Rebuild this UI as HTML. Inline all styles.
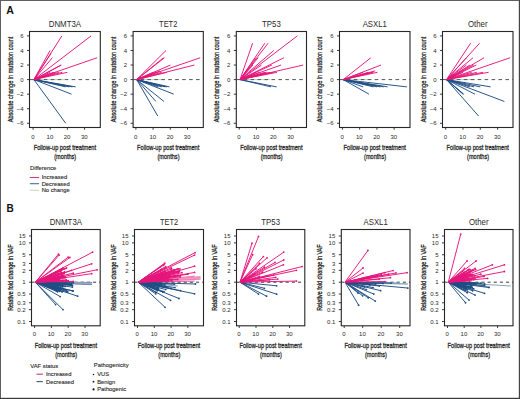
<!DOCTYPE html>
<html><head><meta charset="utf-8"><style>
html,body{margin:0;padding:0;background:#fff;}
body{width:520px;height:399px;overflow:hidden;font-family:"Liberation Sans",sans-serif;}
svg{display:block;}
</style></head><body>
<svg width="520" height="399" viewBox="0 0 520 399" font-family="Liberation Sans, sans-serif">
<rect x="0" y="0" width="520" height="399" fill="#ffffff"/>
<text x="6.30" y="13.90" font-size="10.6" text-anchor="start" fill="#111" font-weight="bold">A</text>
<text x="6.60" y="212.00" font-size="10.0" text-anchor="start" fill="#111" font-weight="bold">B</text>
<g>
<text x="64.90" y="26.70" font-size="8.2" text-anchor="middle" fill="#2a2a2a" textLength="32.40" lengthAdjust="spacingAndGlyphs">DNMT3A</text>
<line x1="27.00" y1="35.92" x2="29.50" y2="35.92" stroke="#262626" stroke-width="0.9"/>
<text x="23.50" y="38.07" font-size="6.0" text-anchor="end" fill="#2a2a2a">6</text>
<line x1="27.00" y1="50.48" x2="29.50" y2="50.48" stroke="#262626" stroke-width="0.9"/>
<text x="23.50" y="52.63" font-size="6.0" text-anchor="end" fill="#2a2a2a">4</text>
<line x1="27.00" y1="65.04" x2="29.50" y2="65.04" stroke="#262626" stroke-width="0.9"/>
<text x="23.50" y="67.19" font-size="6.0" text-anchor="end" fill="#2a2a2a">2</text>
<line x1="27.00" y1="79.60" x2="29.50" y2="79.60" stroke="#262626" stroke-width="0.9"/>
<text x="23.50" y="81.75" font-size="6.0" text-anchor="end" fill="#2a2a2a">0</text>
<line x1="27.00" y1="94.16" x2="29.50" y2="94.16" stroke="#262626" stroke-width="0.9"/>
<text x="23.50" y="96.31" font-size="6.0" text-anchor="end" fill="#2a2a2a">−2</text>
<line x1="27.00" y1="108.72" x2="29.50" y2="108.72" stroke="#262626" stroke-width="0.9"/>
<text x="23.50" y="110.87" font-size="6.0" text-anchor="end" fill="#2a2a2a">−4</text>
<line x1="27.00" y1="123.28" x2="29.50" y2="123.28" stroke="#262626" stroke-width="0.9"/>
<text x="23.50" y="125.43" font-size="6.0" text-anchor="end" fill="#2a2a2a">−6</text>
<line x1="33.10" y1="127.50" x2="33.10" y2="129.70" stroke="#262626" stroke-width="0.9"/>
<text x="32.80" y="139.10" font-size="6.0" text-anchor="middle" fill="#2a2a2a">0</text>
<line x1="50.25" y1="127.50" x2="50.25" y2="129.70" stroke="#262626" stroke-width="0.9"/>
<text x="49.95" y="139.10" font-size="6.0" text-anchor="middle" fill="#2a2a2a">10</text>
<line x1="67.40" y1="127.50" x2="67.40" y2="129.70" stroke="#262626" stroke-width="0.9"/>
<text x="67.10" y="139.10" font-size="6.0" text-anchor="middle" fill="#2a2a2a">20</text>
<line x1="84.55" y1="127.50" x2="84.55" y2="129.70" stroke="#262626" stroke-width="0.9"/>
<text x="84.25" y="139.10" font-size="6.0" text-anchor="middle" fill="#2a2a2a">30</text>
<text x="0" y="0" font-size="8.1" text-anchor="middle" fill="#2a2a2a" textLength="85.70" lengthAdjust="spacingAndGlyphs" stroke="#2a2a2a" stroke-width="0.32" transform="translate(12.90,79.50) rotate(-90)">Absolute change in mutation count</text>
<text x="64.90" y="150.10" font-size="8.1" text-anchor="middle" fill="#2a2a2a" textLength="62.3" lengthAdjust="spacingAndGlyphs" stroke="#2a2a2a" stroke-width="0.32">Follow-up post treatment</text>
<text x="65.20" y="159.20" font-size="8.1" text-anchor="middle" fill="#2a2a2a" textLength="22.0" lengthAdjust="spacingAndGlyphs" stroke="#2a2a2a" stroke-width="0.32">(months)</text>
<clipPath id="ca0"><rect x="29.50" y="31.50" width="70.80" height="96.00"/></clipPath>
<g clip-path="url(#ca0)">
<line x1="33.90" y1="79.60" x2="63.97" y2="79.60" stroke="#bcd8b4" stroke-width="1"/>
<line x1="29.50" y1="79.60" x2="100.30" y2="79.60" stroke="#555" stroke-width="1.0" stroke-dasharray="3.6 3.35" stroke-dashoffset="-0.4"/>
<line x1="33.90" y1="79.60" x2="75.63" y2="86.88" stroke="#1e4e84" stroke-width="0.95"/>
<line x1="33.90" y1="79.60" x2="71.52" y2="94.16" stroke="#1e4e84" stroke-width="0.95"/>
<line x1="33.90" y1="79.60" x2="65.69" y2="123.28" stroke="#1e4e84" stroke-width="0.95"/>
<line x1="33.90" y1="79.60" x2="72.55" y2="86.88" stroke="#1e4e84" stroke-width="0.95"/>
<line x1="33.90" y1="79.60" x2="69.12" y2="86.88" stroke="#1e4e84" stroke-width="0.95"/>
<line x1="33.90" y1="79.60" x2="65.69" y2="86.88" stroke="#1e4e84" stroke-width="0.95"/>
<line x1="33.90" y1="79.60" x2="61.91" y2="35.92" stroke="#e5157b" stroke-width="0.95"/>
<line x1="33.90" y1="79.60" x2="91.07" y2="35.92" stroke="#e5157b" stroke-width="0.95"/>
<line x1="33.90" y1="79.60" x2="50.08" y2="50.48" stroke="#e5157b" stroke-width="0.95"/>
<line x1="33.90" y1="79.60" x2="52.31" y2="57.76" stroke="#e5157b" stroke-width="0.95"/>
<line x1="33.90" y1="79.60" x2="51.11" y2="53.39" stroke="#e5157b" stroke-width="0.95"/>
<line x1="33.90" y1="79.60" x2="61.40" y2="65.04" stroke="#e5157b" stroke-width="0.95"/>
<line x1="33.90" y1="79.60" x2="97.07" y2="57.76" stroke="#e5157b" stroke-width="0.95"/>
<line x1="33.90" y1="79.60" x2="67.40" y2="72.32" stroke="#e5157b" stroke-width="0.95"/>
<line x1="33.90" y1="79.60" x2="61.05" y2="65.04" stroke="#e5157b" stroke-width="0.95"/>
<line x1="33.90" y1="79.60" x2="55.40" y2="72.32" stroke="#e5157b" stroke-width="0.95"/>
<line x1="33.90" y1="79.60" x2="58.83" y2="72.32" stroke="#e5157b" stroke-width="0.95"/>
<line x1="33.90" y1="79.60" x2="53.68" y2="72.32" stroke="#e5157b" stroke-width="0.95"/>
<line x1="33.90" y1="79.60" x2="62.26" y2="72.32" stroke="#e5157b" stroke-width="0.95"/>
<line x1="33.90" y1="79.60" x2="50.25" y2="72.32" stroke="#e5157b" stroke-width="0.95"/>
</g>
<rect x="29.50" y="31.50" width="70.80" height="96.00" fill="none" stroke="#262626" stroke-width="1.1"/>
</g>
<g>
<text x="168.20" y="26.70" font-size="8.2" text-anchor="middle" fill="#2a2a2a" textLength="18.20" lengthAdjust="spacingAndGlyphs">TET2</text>
<line x1="130.60" y1="35.92" x2="133.10" y2="35.92" stroke="#262626" stroke-width="0.9"/>
<text x="127.10" y="38.07" font-size="6.0" text-anchor="end" fill="#2a2a2a">6</text>
<line x1="130.60" y1="50.48" x2="133.10" y2="50.48" stroke="#262626" stroke-width="0.9"/>
<text x="127.10" y="52.63" font-size="6.0" text-anchor="end" fill="#2a2a2a">4</text>
<line x1="130.60" y1="65.04" x2="133.10" y2="65.04" stroke="#262626" stroke-width="0.9"/>
<text x="127.10" y="67.19" font-size="6.0" text-anchor="end" fill="#2a2a2a">2</text>
<line x1="130.60" y1="79.60" x2="133.10" y2="79.60" stroke="#262626" stroke-width="0.9"/>
<text x="127.10" y="81.75" font-size="6.0" text-anchor="end" fill="#2a2a2a">0</text>
<line x1="130.60" y1="94.16" x2="133.10" y2="94.16" stroke="#262626" stroke-width="0.9"/>
<text x="127.10" y="96.31" font-size="6.0" text-anchor="end" fill="#2a2a2a">−2</text>
<line x1="130.60" y1="108.72" x2="133.10" y2="108.72" stroke="#262626" stroke-width="0.9"/>
<text x="127.10" y="110.87" font-size="6.0" text-anchor="end" fill="#2a2a2a">−4</text>
<line x1="130.60" y1="123.28" x2="133.10" y2="123.28" stroke="#262626" stroke-width="0.9"/>
<text x="127.10" y="125.43" font-size="6.0" text-anchor="end" fill="#2a2a2a">−6</text>
<line x1="135.90" y1="127.50" x2="135.90" y2="129.70" stroke="#262626" stroke-width="0.9"/>
<text x="135.60" y="139.10" font-size="6.0" text-anchor="middle" fill="#2a2a2a">0</text>
<line x1="153.10" y1="127.50" x2="153.10" y2="129.70" stroke="#262626" stroke-width="0.9"/>
<text x="152.80" y="139.10" font-size="6.0" text-anchor="middle" fill="#2a2a2a">10</text>
<line x1="170.30" y1="127.50" x2="170.30" y2="129.70" stroke="#262626" stroke-width="0.9"/>
<text x="170.00" y="139.10" font-size="6.0" text-anchor="middle" fill="#2a2a2a">20</text>
<line x1="187.50" y1="127.50" x2="187.50" y2="129.70" stroke="#262626" stroke-width="0.9"/>
<text x="187.20" y="139.10" font-size="6.0" text-anchor="middle" fill="#2a2a2a">30</text>
<text x="0" y="0" font-size="8.1" text-anchor="middle" fill="#2a2a2a" textLength="85.70" lengthAdjust="spacingAndGlyphs" stroke="#2a2a2a" stroke-width="0.32" transform="translate(115.90,79.50) rotate(-90)">Absolute change in mutation count</text>
<text x="168.20" y="150.10" font-size="8.1" text-anchor="middle" fill="#2a2a2a" textLength="62.3" lengthAdjust="spacingAndGlyphs" stroke="#2a2a2a" stroke-width="0.32">Follow-up post treatment</text>
<text x="168.50" y="159.20" font-size="8.1" text-anchor="middle" fill="#2a2a2a" textLength="22.0" lengthAdjust="spacingAndGlyphs" stroke="#2a2a2a" stroke-width="0.32">(months)</text>
<clipPath id="ca1"><rect x="133.10" y="31.50" width="70.20" height="96.00"/></clipPath>
<g clip-path="url(#ca1)">
<line x1="136.70" y1="79.60" x2="165.14" y2="79.60" stroke="#bcd8b4" stroke-width="1"/>
<line x1="133.10" y1="79.60" x2="203.30" y2="79.60" stroke="#555" stroke-width="1.0" stroke-dasharray="3.6 3.35" stroke-dashoffset="-0.4"/>
<line x1="136.70" y1="79.60" x2="169.44" y2="86.88" stroke="#1e4e84" stroke-width="0.95"/>
<line x1="136.70" y1="79.60" x2="173.74" y2="94.16" stroke="#1e4e84" stroke-width="0.95"/>
<line x1="136.70" y1="79.60" x2="163.94" y2="101.44" stroke="#1e4e84" stroke-width="0.95"/>
<line x1="136.70" y1="79.60" x2="155.85" y2="101.44" stroke="#1e4e84" stroke-width="0.95"/>
<line x1="136.70" y1="79.60" x2="157.74" y2="116.00" stroke="#1e4e84" stroke-width="0.95"/>
<line x1="136.70" y1="79.60" x2="161.70" y2="86.88" stroke="#1e4e84" stroke-width="0.95"/>
<line x1="136.70" y1="79.60" x2="165.14" y2="86.88" stroke="#1e4e84" stroke-width="0.95"/>
<line x1="136.70" y1="79.60" x2="158.26" y2="86.88" stroke="#1e4e84" stroke-width="0.95"/>
<line x1="136.70" y1="79.60" x2="166.86" y2="86.88" stroke="#1e4e84" stroke-width="0.95"/>
<line x1="136.70" y1="79.60" x2="166.00" y2="50.48" stroke="#e5157b" stroke-width="0.95"/>
<line x1="136.70" y1="79.60" x2="164.45" y2="57.76" stroke="#e5157b" stroke-width="0.95"/>
<line x1="136.70" y1="79.60" x2="163.42" y2="57.76" stroke="#e5157b" stroke-width="0.95"/>
<line x1="136.70" y1="79.60" x2="170.47" y2="65.04" stroke="#e5157b" stroke-width="0.95"/>
<line x1="136.70" y1="79.60" x2="200.23" y2="57.76" stroke="#e5157b" stroke-width="0.95"/>
<line x1="136.70" y1="79.60" x2="194.38" y2="65.04" stroke="#e5157b" stroke-width="0.95"/>
<line x1="136.70" y1="79.60" x2="156.54" y2="72.32" stroke="#e5157b" stroke-width="0.95"/>
<line x1="136.70" y1="79.60" x2="161.70" y2="72.32" stroke="#e5157b" stroke-width="0.95"/>
<line x1="136.70" y1="79.60" x2="166.86" y2="72.32" stroke="#e5157b" stroke-width="0.95"/>
<line x1="136.70" y1="79.60" x2="153.10" y2="72.32" stroke="#e5157b" stroke-width="0.95"/>
<line x1="136.70" y1="79.60" x2="159.98" y2="70.86" stroke="#e5157b" stroke-width="0.95"/>
</g>
<rect x="133.10" y="31.50" width="70.20" height="96.00" fill="none" stroke="#262626" stroke-width="1.1"/>
</g>
<g>
<text x="271.40" y="26.70" font-size="8.2" text-anchor="middle" fill="#2a2a2a" textLength="18.70" lengthAdjust="spacingAndGlyphs">TP53</text>
<line x1="233.80" y1="35.92" x2="236.30" y2="35.92" stroke="#262626" stroke-width="0.9"/>
<text x="230.30" y="38.07" font-size="6.0" text-anchor="end" fill="#2a2a2a">6</text>
<line x1="233.80" y1="50.48" x2="236.30" y2="50.48" stroke="#262626" stroke-width="0.9"/>
<text x="230.30" y="52.63" font-size="6.0" text-anchor="end" fill="#2a2a2a">4</text>
<line x1="233.80" y1="65.04" x2="236.30" y2="65.04" stroke="#262626" stroke-width="0.9"/>
<text x="230.30" y="67.19" font-size="6.0" text-anchor="end" fill="#2a2a2a">2</text>
<line x1="233.80" y1="79.60" x2="236.30" y2="79.60" stroke="#262626" stroke-width="0.9"/>
<text x="230.30" y="81.75" font-size="6.0" text-anchor="end" fill="#2a2a2a">0</text>
<line x1="233.80" y1="94.16" x2="236.30" y2="94.16" stroke="#262626" stroke-width="0.9"/>
<text x="230.30" y="96.31" font-size="6.0" text-anchor="end" fill="#2a2a2a">−2</text>
<line x1="233.80" y1="108.72" x2="236.30" y2="108.72" stroke="#262626" stroke-width="0.9"/>
<text x="230.30" y="110.87" font-size="6.0" text-anchor="end" fill="#2a2a2a">−4</text>
<line x1="233.80" y1="123.28" x2="236.30" y2="123.28" stroke="#262626" stroke-width="0.9"/>
<text x="230.30" y="125.43" font-size="6.0" text-anchor="end" fill="#2a2a2a">−6</text>
<line x1="239.20" y1="127.50" x2="239.20" y2="129.70" stroke="#262626" stroke-width="0.9"/>
<text x="238.90" y="139.10" font-size="6.0" text-anchor="middle" fill="#2a2a2a">0</text>
<line x1="256.40" y1="127.50" x2="256.40" y2="129.70" stroke="#262626" stroke-width="0.9"/>
<text x="256.10" y="139.10" font-size="6.0" text-anchor="middle" fill="#2a2a2a">10</text>
<line x1="273.60" y1="127.50" x2="273.60" y2="129.70" stroke="#262626" stroke-width="0.9"/>
<text x="273.30" y="139.10" font-size="6.0" text-anchor="middle" fill="#2a2a2a">20</text>
<line x1="290.80" y1="127.50" x2="290.80" y2="129.70" stroke="#262626" stroke-width="0.9"/>
<text x="290.50" y="139.10" font-size="6.0" text-anchor="middle" fill="#2a2a2a">30</text>
<text x="0" y="0" font-size="8.1" text-anchor="middle" fill="#2a2a2a" textLength="85.70" lengthAdjust="spacingAndGlyphs" stroke="#2a2a2a" stroke-width="0.32" transform="translate(219.00,79.50) rotate(-90)">Absolute change in mutation count</text>
<text x="271.40" y="150.10" font-size="8.1" text-anchor="middle" fill="#2a2a2a" textLength="62.3" lengthAdjust="spacingAndGlyphs" stroke="#2a2a2a" stroke-width="0.32">Follow-up post treatment</text>
<text x="271.70" y="159.20" font-size="8.1" text-anchor="middle" fill="#2a2a2a" textLength="22.0" lengthAdjust="spacingAndGlyphs" stroke="#2a2a2a" stroke-width="0.32">(months)</text>
<clipPath id="ca2"><rect x="236.30" y="31.50" width="70.20" height="96.00"/></clipPath>
<g clip-path="url(#ca2)">
<line x1="240.00" y1="79.60" x2="270.16" y2="79.60" stroke="#bcd8b4" stroke-width="1"/>
<line x1="236.30" y1="79.60" x2="306.50" y2="79.60" stroke="#555" stroke-width="1.0" stroke-dasharray="3.6 3.35" stroke-dashoffset="-0.4"/>
<line x1="240.00" y1="79.60" x2="276.70" y2="86.88" stroke="#1e4e84" stroke-width="0.95"/>
<line x1="240.00" y1="79.60" x2="271.02" y2="86.88" stroke="#1e4e84" stroke-width="0.95"/>
<line x1="240.00" y1="79.60" x2="252.62" y2="43.20" stroke="#e5157b" stroke-width="0.95"/>
<line x1="240.00" y1="79.60" x2="264.83" y2="43.20" stroke="#e5157b" stroke-width="0.95"/>
<line x1="240.00" y1="79.60" x2="268.10" y2="43.20" stroke="#e5157b" stroke-width="0.95"/>
<line x1="240.00" y1="79.60" x2="297.34" y2="35.92" stroke="#e5157b" stroke-width="0.95"/>
<line x1="240.00" y1="79.60" x2="273.77" y2="50.48" stroke="#e5157b" stroke-width="0.95"/>
<line x1="240.00" y1="79.60" x2="258.12" y2="57.76" stroke="#e5157b" stroke-width="0.95"/>
<line x1="240.00" y1="79.60" x2="255.54" y2="57.76" stroke="#e5157b" stroke-width="0.95"/>
<line x1="240.00" y1="79.60" x2="283.92" y2="57.76" stroke="#e5157b" stroke-width="0.95"/>
<line x1="240.00" y1="79.60" x2="281.00" y2="65.04" stroke="#e5157b" stroke-width="0.95"/>
<line x1="240.00" y1="79.60" x2="271.88" y2="65.04" stroke="#e5157b" stroke-width="0.95"/>
<line x1="240.00" y1="79.60" x2="303.18" y2="65.04" stroke="#e5157b" stroke-width="0.95"/>
<line x1="240.00" y1="79.60" x2="256.40" y2="72.32" stroke="#e5157b" stroke-width="0.95"/>
<line x1="240.00" y1="79.60" x2="259.84" y2="72.32" stroke="#e5157b" stroke-width="0.95"/>
<line x1="240.00" y1="79.60" x2="265.00" y2="72.32" stroke="#e5157b" stroke-width="0.95"/>
<line x1="240.00" y1="79.60" x2="270.16" y2="72.32" stroke="#e5157b" stroke-width="0.95"/>
<line x1="240.00" y1="79.60" x2="273.60" y2="72.32" stroke="#e5157b" stroke-width="0.95"/>
<line x1="240.00" y1="79.60" x2="252.96" y2="65.04" stroke="#e5157b" stroke-width="0.95"/>
<line x1="240.00" y1="79.60" x2="261.56" y2="65.04" stroke="#e5157b" stroke-width="0.95"/>
<line x1="240.00" y1="79.60" x2="266.72" y2="72.32" stroke="#e5157b" stroke-width="0.95"/>
<line x1="240.00" y1="79.60" x2="277.04" y2="72.32" stroke="#e5157b" stroke-width="0.95"/>
</g>
<rect x="236.30" y="31.50" width="70.20" height="96.00" fill="none" stroke="#262626" stroke-width="1.1"/>
</g>
<g>
<text x="374.75" y="26.70" font-size="8.2" text-anchor="middle" fill="#2a2a2a" textLength="24.10" lengthAdjust="spacingAndGlyphs">ASXL1</text>
<line x1="337.00" y1="35.92" x2="339.50" y2="35.92" stroke="#262626" stroke-width="0.9"/>
<text x="333.50" y="38.07" font-size="6.0" text-anchor="end" fill="#2a2a2a">6</text>
<line x1="337.00" y1="50.48" x2="339.50" y2="50.48" stroke="#262626" stroke-width="0.9"/>
<text x="333.50" y="52.63" font-size="6.0" text-anchor="end" fill="#2a2a2a">4</text>
<line x1="337.00" y1="65.04" x2="339.50" y2="65.04" stroke="#262626" stroke-width="0.9"/>
<text x="333.50" y="67.19" font-size="6.0" text-anchor="end" fill="#2a2a2a">2</text>
<line x1="337.00" y1="79.60" x2="339.50" y2="79.60" stroke="#262626" stroke-width="0.9"/>
<text x="333.50" y="81.75" font-size="6.0" text-anchor="end" fill="#2a2a2a">0</text>
<line x1="337.00" y1="94.16" x2="339.50" y2="94.16" stroke="#262626" stroke-width="0.9"/>
<text x="333.50" y="96.31" font-size="6.0" text-anchor="end" fill="#2a2a2a">−2</text>
<line x1="337.00" y1="108.72" x2="339.50" y2="108.72" stroke="#262626" stroke-width="0.9"/>
<text x="333.50" y="110.87" font-size="6.0" text-anchor="end" fill="#2a2a2a">−4</text>
<line x1="337.00" y1="123.28" x2="339.50" y2="123.28" stroke="#262626" stroke-width="0.9"/>
<text x="333.50" y="125.43" font-size="6.0" text-anchor="end" fill="#2a2a2a">−6</text>
<line x1="342.40" y1="127.50" x2="342.40" y2="129.70" stroke="#262626" stroke-width="0.9"/>
<text x="342.10" y="139.10" font-size="6.0" text-anchor="middle" fill="#2a2a2a">0</text>
<line x1="359.65" y1="127.50" x2="359.65" y2="129.70" stroke="#262626" stroke-width="0.9"/>
<text x="359.35" y="139.10" font-size="6.0" text-anchor="middle" fill="#2a2a2a">10</text>
<line x1="376.90" y1="127.50" x2="376.90" y2="129.70" stroke="#262626" stroke-width="0.9"/>
<text x="376.60" y="139.10" font-size="6.0" text-anchor="middle" fill="#2a2a2a">20</text>
<line x1="394.15" y1="127.50" x2="394.15" y2="129.70" stroke="#262626" stroke-width="0.9"/>
<text x="393.85" y="139.10" font-size="6.0" text-anchor="middle" fill="#2a2a2a">30</text>
<text x="0" y="0" font-size="8.1" text-anchor="middle" fill="#2a2a2a" textLength="85.70" lengthAdjust="spacingAndGlyphs" stroke="#2a2a2a" stroke-width="0.32" transform="translate(322.00,79.50) rotate(-90)">Absolute change in mutation count</text>
<text x="374.75" y="150.10" font-size="8.1" text-anchor="middle" fill="#2a2a2a" textLength="62.3" lengthAdjust="spacingAndGlyphs" stroke="#2a2a2a" stroke-width="0.32">Follow-up post treatment</text>
<text x="375.05" y="159.20" font-size="8.1" text-anchor="middle" fill="#2a2a2a" textLength="22.0" lengthAdjust="spacingAndGlyphs" stroke="#2a2a2a" stroke-width="0.32">(months)</text>
<clipPath id="ca3"><rect x="339.50" y="31.50" width="70.50" height="96.00"/></clipPath>
<g clip-path="url(#ca3)">
<line x1="343.20" y1="79.60" x2="371.72" y2="79.60" stroke="#bcd8b4" stroke-width="1"/>
<line x1="339.50" y1="79.60" x2="410.00" y2="79.60" stroke="#555" stroke-width="1.0" stroke-dasharray="3.6 3.35" stroke-dashoffset="-0.4"/>
<line x1="343.20" y1="79.60" x2="406.91" y2="86.88" stroke="#1e4e84" stroke-width="0.95"/>
<line x1="343.20" y1="79.60" x2="387.59" y2="86.88" stroke="#1e4e84" stroke-width="0.95"/>
<line x1="343.20" y1="79.60" x2="368.96" y2="94.16" stroke="#1e4e84" stroke-width="0.95"/>
<line x1="343.20" y1="79.60" x2="376.90" y2="86.88" stroke="#1e4e84" stroke-width="0.95"/>
<line x1="343.20" y1="79.60" x2="380.35" y2="86.88" stroke="#1e4e84" stroke-width="0.95"/>
<line x1="343.20" y1="79.60" x2="383.80" y2="86.88" stroke="#1e4e84" stroke-width="0.95"/>
<line x1="343.20" y1="79.60" x2="373.45" y2="86.88" stroke="#1e4e84" stroke-width="0.95"/>
<line x1="343.20" y1="79.60" x2="363.10" y2="86.88" stroke="#1e4e84" stroke-width="0.95"/>
<line x1="343.20" y1="79.60" x2="370.86" y2="57.76" stroke="#e5157b" stroke-width="0.95"/>
<line x1="343.20" y1="79.60" x2="381.04" y2="65.04" stroke="#e5157b" stroke-width="0.95"/>
<line x1="343.20" y1="79.60" x2="377.42" y2="72.32" stroke="#e5157b" stroke-width="0.95"/>
<line x1="343.20" y1="79.60" x2="368.27" y2="72.32" stroke="#e5157b" stroke-width="0.95"/>
<line x1="343.20" y1="79.60" x2="371.72" y2="72.32" stroke="#e5157b" stroke-width="0.95"/>
<line x1="343.20" y1="79.60" x2="373.45" y2="72.32" stroke="#e5157b" stroke-width="0.95"/>
<line x1="343.20" y1="79.60" x2="363.10" y2="72.32" stroke="#e5157b" stroke-width="0.95"/>
<line x1="343.20" y1="79.60" x2="375.17" y2="70.86" stroke="#e5157b" stroke-width="0.95"/>
</g>
<rect x="339.50" y="31.50" width="70.50" height="96.00" fill="none" stroke="#262626" stroke-width="1.1"/>
</g>
<g>
<text x="477.75" y="26.70" font-size="8.2" text-anchor="middle" fill="#2a2a2a" textLength="19.60" lengthAdjust="spacingAndGlyphs">Other</text>
<line x1="440.00" y1="35.92" x2="442.50" y2="35.92" stroke="#262626" stroke-width="0.9"/>
<text x="436.50" y="38.07" font-size="6.0" text-anchor="end" fill="#2a2a2a">6</text>
<line x1="440.00" y1="50.48" x2="442.50" y2="50.48" stroke="#262626" stroke-width="0.9"/>
<text x="436.50" y="52.63" font-size="6.0" text-anchor="end" fill="#2a2a2a">4</text>
<line x1="440.00" y1="65.04" x2="442.50" y2="65.04" stroke="#262626" stroke-width="0.9"/>
<text x="436.50" y="67.19" font-size="6.0" text-anchor="end" fill="#2a2a2a">2</text>
<line x1="440.00" y1="79.60" x2="442.50" y2="79.60" stroke="#262626" stroke-width="0.9"/>
<text x="436.50" y="81.75" font-size="6.0" text-anchor="end" fill="#2a2a2a">0</text>
<line x1="440.00" y1="94.16" x2="442.50" y2="94.16" stroke="#262626" stroke-width="0.9"/>
<text x="436.50" y="96.31" font-size="6.0" text-anchor="end" fill="#2a2a2a">−2</text>
<line x1="440.00" y1="108.72" x2="442.50" y2="108.72" stroke="#262626" stroke-width="0.9"/>
<text x="436.50" y="110.87" font-size="6.0" text-anchor="end" fill="#2a2a2a">−4</text>
<line x1="440.00" y1="123.28" x2="442.50" y2="123.28" stroke="#262626" stroke-width="0.9"/>
<text x="436.50" y="125.43" font-size="6.0" text-anchor="end" fill="#2a2a2a">−6</text>
<line x1="445.70" y1="127.50" x2="445.70" y2="129.70" stroke="#262626" stroke-width="0.9"/>
<text x="445.40" y="139.10" font-size="6.0" text-anchor="middle" fill="#2a2a2a">0</text>
<line x1="463.00" y1="127.50" x2="463.00" y2="129.70" stroke="#262626" stroke-width="0.9"/>
<text x="462.70" y="139.10" font-size="6.0" text-anchor="middle" fill="#2a2a2a">10</text>
<line x1="480.30" y1="127.50" x2="480.30" y2="129.70" stroke="#262626" stroke-width="0.9"/>
<text x="480.00" y="139.10" font-size="6.0" text-anchor="middle" fill="#2a2a2a">20</text>
<line x1="497.60" y1="127.50" x2="497.60" y2="129.70" stroke="#262626" stroke-width="0.9"/>
<text x="497.30" y="139.10" font-size="6.0" text-anchor="middle" fill="#2a2a2a">30</text>
<text x="0" y="0" font-size="8.1" text-anchor="middle" fill="#2a2a2a" textLength="85.70" lengthAdjust="spacingAndGlyphs" stroke="#2a2a2a" stroke-width="0.32" transform="translate(425.80,79.50) rotate(-90)">Absolute change in mutation count</text>
<text x="477.75" y="150.10" font-size="8.1" text-anchor="middle" fill="#2a2a2a" textLength="62.3" lengthAdjust="spacingAndGlyphs" stroke="#2a2a2a" stroke-width="0.32">Follow-up post treatment</text>
<text x="478.05" y="159.20" font-size="8.1" text-anchor="middle" fill="#2a2a2a" textLength="22.0" lengthAdjust="spacingAndGlyphs" stroke="#2a2a2a" stroke-width="0.32">(months)</text>
<clipPath id="ca4"><rect x="442.50" y="31.50" width="70.50" height="96.00"/></clipPath>
<g clip-path="url(#ca4)">
<line x1="446.50" y1="79.60" x2="475.11" y2="79.60" stroke="#bcd8b4" stroke-width="1"/>
<line x1="442.50" y1="79.60" x2="513.00" y2="79.60" stroke="#555" stroke-width="1.0" stroke-dasharray="3.6 3.35" stroke-dashoffset="-0.4"/>
<line x1="446.50" y1="79.60" x2="490.68" y2="86.88" stroke="#1e4e84" stroke-width="0.95"/>
<line x1="446.50" y1="79.60" x2="474.07" y2="86.88" stroke="#1e4e84" stroke-width="0.95"/>
<line x1="446.50" y1="79.60" x2="474.94" y2="94.16" stroke="#1e4e84" stroke-width="0.95"/>
<line x1="446.50" y1="79.60" x2="463.35" y2="94.16" stroke="#1e4e84" stroke-width="0.95"/>
<line x1="446.50" y1="79.60" x2="463.69" y2="94.16" stroke="#1e4e84" stroke-width="0.95"/>
<line x1="446.50" y1="79.60" x2="463.00" y2="94.16" stroke="#1e4e84" stroke-width="0.95"/>
<line x1="446.50" y1="79.60" x2="504.35" y2="101.44" stroke="#1e4e84" stroke-width="0.95"/>
<line x1="446.50" y1="79.60" x2="478.57" y2="116.00" stroke="#1e4e84" stroke-width="0.95"/>
<line x1="446.50" y1="79.60" x2="469.92" y2="86.88" stroke="#1e4e84" stroke-width="0.95"/>
<line x1="446.50" y1="79.60" x2="480.30" y2="86.88" stroke="#1e4e84" stroke-width="0.95"/>
<line x1="446.50" y1="79.60" x2="470.61" y2="43.20" stroke="#e5157b" stroke-width="0.95"/>
<line x1="446.50" y1="79.60" x2="479.61" y2="43.20" stroke="#e5157b" stroke-width="0.95"/>
<line x1="446.50" y1="79.60" x2="473.03" y2="57.76" stroke="#e5157b" stroke-width="0.95"/>
<line x1="446.50" y1="79.60" x2="484.11" y2="57.76" stroke="#e5157b" stroke-width="0.95"/>
<line x1="446.50" y1="79.60" x2="510.06" y2="57.76" stroke="#e5157b" stroke-width="0.95"/>
<line x1="446.50" y1="79.60" x2="476.32" y2="65.04" stroke="#e5157b" stroke-width="0.95"/>
<line x1="446.50" y1="79.60" x2="473.73" y2="65.04" stroke="#e5157b" stroke-width="0.95"/>
<line x1="446.50" y1="79.60" x2="488.60" y2="72.32" stroke="#e5157b" stroke-width="0.95"/>
<line x1="446.50" y1="79.60" x2="483.07" y2="72.32" stroke="#e5157b" stroke-width="0.95"/>
<line x1="446.50" y1="79.60" x2="466.46" y2="65.04" stroke="#e5157b" stroke-width="0.95"/>
<line x1="446.50" y1="79.60" x2="463.00" y2="72.32" stroke="#e5157b" stroke-width="0.95"/>
<line x1="446.50" y1="79.60" x2="471.65" y2="72.32" stroke="#e5157b" stroke-width="0.95"/>
<line x1="446.50" y1="79.60" x2="476.84" y2="72.32" stroke="#e5157b" stroke-width="0.95"/>
<line x1="446.50" y1="79.60" x2="459.54" y2="72.32" stroke="#e5157b" stroke-width="0.95"/>
<line x1="446.50" y1="79.60" x2="469.92" y2="65.04" stroke="#e5157b" stroke-width="0.95"/>
<line x1="446.50" y1="79.60" x2="466.46" y2="57.76" stroke="#e5157b" stroke-width="0.95"/>
</g>
<rect x="442.50" y="31.50" width="70.50" height="96.00" fill="none" stroke="#262626" stroke-width="1.1"/>
</g>
<g>
<text x="65.85" y="224.70" font-size="8.2" text-anchor="middle" fill="#2a2a2a" textLength="32.40" lengthAdjust="spacingAndGlyphs">DNMT3A</text>
<line x1="29.00" y1="235.98" x2="31.50" y2="235.98" stroke="#262626" stroke-width="0.9"/>
<text x="25.50" y="238.13" font-size="6.0" text-anchor="end" fill="#2a2a2a">15</text>
<line x1="29.00" y1="242.90" x2="31.50" y2="242.90" stroke="#262626" stroke-width="0.9"/>
<text x="25.50" y="245.05" font-size="6.0" text-anchor="end" fill="#2a2a2a">10</text>
<line x1="29.00" y1="254.73" x2="31.50" y2="254.73" stroke="#262626" stroke-width="0.9"/>
<text x="25.50" y="256.88" font-size="6.0" text-anchor="end" fill="#2a2a2a">5</text>
<line x1="29.00" y1="263.45" x2="31.50" y2="263.45" stroke="#262626" stroke-width="0.9"/>
<text x="25.50" y="265.60" font-size="6.0" text-anchor="end" fill="#2a2a2a">3</text>
<line x1="29.00" y1="270.37" x2="31.50" y2="270.37" stroke="#262626" stroke-width="0.9"/>
<text x="25.50" y="272.52" font-size="6.0" text-anchor="end" fill="#2a2a2a">2</text>
<line x1="29.00" y1="282.20" x2="31.50" y2="282.20" stroke="#262626" stroke-width="0.9"/>
<text x="25.50" y="284.35" font-size="6.0" text-anchor="end" fill="#2a2a2a">1</text>
<line x1="29.00" y1="294.03" x2="31.50" y2="294.03" stroke="#262626" stroke-width="0.9"/>
<text x="25.50" y="296.18" font-size="6.0" text-anchor="end" fill="#2a2a2a">0.5</text>
<line x1="29.00" y1="302.75" x2="31.50" y2="302.75" stroke="#262626" stroke-width="0.9"/>
<text x="25.50" y="304.90" font-size="6.0" text-anchor="end" fill="#2a2a2a">0.3</text>
<line x1="29.00" y1="309.67" x2="31.50" y2="309.67" stroke="#262626" stroke-width="0.9"/>
<text x="25.50" y="311.82" font-size="6.0" text-anchor="end" fill="#2a2a2a">0.2</text>
<line x1="29.00" y1="321.50" x2="31.50" y2="321.50" stroke="#262626" stroke-width="0.9"/>
<text x="25.50" y="323.65" font-size="6.0" text-anchor="end" fill="#2a2a2a">0.1</text>
<line x1="34.60" y1="325.80" x2="34.60" y2="328.00" stroke="#262626" stroke-width="0.9"/>
<text x="34.30" y="336.20" font-size="6.0" text-anchor="middle" fill="#2a2a2a">0</text>
<line x1="51.40" y1="325.80" x2="51.40" y2="328.00" stroke="#262626" stroke-width="0.9"/>
<text x="51.10" y="336.20" font-size="6.0" text-anchor="middle" fill="#2a2a2a">10</text>
<line x1="68.20" y1="325.80" x2="68.20" y2="328.00" stroke="#262626" stroke-width="0.9"/>
<text x="67.90" y="336.20" font-size="6.0" text-anchor="middle" fill="#2a2a2a">20</text>
<line x1="85.00" y1="325.80" x2="85.00" y2="328.00" stroke="#262626" stroke-width="0.9"/>
<text x="84.70" y="336.20" font-size="6.0" text-anchor="middle" fill="#2a2a2a">30</text>
<text x="0" y="0" font-size="8.1" text-anchor="middle" fill="#2a2a2a" textLength="66.30" lengthAdjust="spacingAndGlyphs" stroke="#2a2a2a" stroke-width="0.32" transform="translate(12.80,277.65) rotate(-90)">Relative fold change in VAF</text>
<text x="65.85" y="347.90" font-size="8.1" text-anchor="middle" fill="#2a2a2a" textLength="62.3" lengthAdjust="spacingAndGlyphs" stroke="#2a2a2a" stroke-width="0.32">Follow-up post treatment</text>
<text x="66.15" y="357.00" font-size="8.1" text-anchor="middle" fill="#2a2a2a" textLength="22.0" lengthAdjust="spacingAndGlyphs" stroke="#2a2a2a" stroke-width="0.32">(months)</text>
<clipPath id="cb0"><rect x="31.50" y="229.50" width="68.70" height="96.30"/></clipPath>
<g clip-path="url(#cb0)">
<line x1="31.50" y1="282.20" x2="100.20" y2="282.20" stroke="#3a3a3a" stroke-width="1.0" stroke-dasharray="3.1 3.05"/>
<line x1="35.40" y1="282.20" x2="92.06" y2="282.46" stroke="#5a3d80" stroke-width="0.9"/>
<line x1="35.40" y1="282.20" x2="92.06" y2="283.08" stroke="#8a9fc0" stroke-width="1.6"/>
<line x1="35.40" y1="282.20" x2="92.06" y2="283.90" stroke="#9ab0c8" stroke-width="1.6"/>
<line x1="35.40" y1="282.20" x2="92.06" y2="284.68" stroke="#6e88a6" stroke-width="1.0"/>
<line x1="35.40" y1="282.20" x2="77.61" y2="296.21" stroke="#1e4e84" stroke-width="0.95"/>
<circle cx="77.61" cy="296.21" r="0.9" fill="#1e4e84"/>
<line x1="35.40" y1="282.20" x2="62.99" y2="309.67" stroke="#1e4e84" stroke-width="0.95"/>
<circle cx="62.99" cy="309.67" r="0.9" fill="#1e4e84"/>
<line x1="35.40" y1="282.20" x2="55.60" y2="304.55" stroke="#1e4e84" stroke-width="0.95"/>
<circle cx="55.60" cy="304.55" r="0.9" fill="#1e4e84"/>
<line x1="35.40" y1="282.20" x2="60.14" y2="296.60" stroke="#1e4e84" stroke-width="0.95"/>
<circle cx="60.14" cy="296.60" r="0.9" fill="#1e4e84"/>
<line x1="35.40" y1="282.20" x2="73.24" y2="290.92" stroke="#1e4e84" stroke-width="0.95"/>
<circle cx="73.24" cy="290.92" r="0.9" fill="#1e4e84"/>
<line x1="35.40" y1="282.20" x2="72.40" y2="287.11" stroke="#1e4e84" stroke-width="0.95"/>
<circle cx="72.40" cy="287.11" r="0.9" fill="#1e4e84"/>
<line x1="35.40" y1="282.20" x2="71.56" y2="284.00" stroke="#1e4e84" stroke-width="0.95"/>
<circle cx="71.56" cy="284.00" r="0.9" fill="#1e4e84"/>
<line x1="35.40" y1="282.20" x2="73.24" y2="282.72" stroke="#1e4e84" stroke-width="0.95"/>
<circle cx="73.24" cy="282.72" r="0.9" fill="#1e4e84"/>
<line x1="35.40" y1="282.20" x2="62.92" y2="285.93" stroke="#1e4e84" stroke-width="0.95"/>
<circle cx="62.92" cy="285.93" r="0.9" fill="#1e4e84"/>
<line x1="35.40" y1="282.20" x2="56.82" y2="287.93" stroke="#1e4e84" stroke-width="0.95"/>
<circle cx="56.82" cy="287.93" r="0.9" fill="#1e4e84"/>
<line x1="35.40" y1="282.20" x2="59.26" y2="291.27" stroke="#1e4e84" stroke-width="0.95"/>
<circle cx="59.26" cy="291.27" r="0.9" fill="#1e4e84"/>
<line x1="35.40" y1="282.20" x2="57.43" y2="284.96" stroke="#1e4e84" stroke-width="0.95"/>
<circle cx="57.43" cy="284.96" r="0.9" fill="#1e4e84"/>
<line x1="35.40" y1="282.20" x2="58.61" y2="290.01" stroke="#1e4e84" stroke-width="0.95"/>
<circle cx="58.61" cy="290.01" r="0.9" fill="#1e4e84"/>
<line x1="35.40" y1="282.20" x2="63.01" y2="283.97" stroke="#1e4e84" stroke-width="0.95"/>
<circle cx="63.01" cy="283.97" r="0.9" fill="#1e4e84"/>
<line x1="35.40" y1="282.20" x2="57.79" y2="288.05" stroke="#1e4e84" stroke-width="0.95"/>
<circle cx="57.79" cy="288.05" r="0.9" fill="#1e4e84"/>
<line x1="35.40" y1="282.20" x2="65.67" y2="283.85" stroke="#1e4e84" stroke-width="0.95"/>
<circle cx="65.67" cy="283.85" r="0.9" fill="#1e4e84"/>
<line x1="35.40" y1="282.20" x2="70.20" y2="284.04" stroke="#1e4e84" stroke-width="0.95"/>
<circle cx="70.20" cy="284.04" r="0.9" fill="#1e4e84"/>
<line x1="35.40" y1="282.20" x2="61.12" y2="288.38" stroke="#1e4e84" stroke-width="0.95"/>
<circle cx="61.12" cy="288.38" r="0.9" fill="#1e4e84"/>
<line x1="35.40" y1="282.20" x2="62.47" y2="283.84" stroke="#1e4e84" stroke-width="0.95"/>
<circle cx="62.47" cy="283.84" r="0.9" fill="#1e4e84"/>
<line x1="35.40" y1="282.20" x2="72.53" y2="290.94" stroke="#1e4e84" stroke-width="0.95"/>
<circle cx="72.53" cy="290.94" r="0.9" fill="#1e4e84"/>
<line x1="35.40" y1="282.20" x2="59.40" y2="290.16" stroke="#1e4e84" stroke-width="0.95"/>
<circle cx="59.40" cy="290.16" r="0.9" fill="#1e4e84"/>
<line x1="35.40" y1="282.20" x2="60.36" y2="287.71" stroke="#1e4e84" stroke-width="0.95"/>
<circle cx="60.36" cy="287.71" r="0.9" fill="#1e4e84"/>
<line x1="35.40" y1="282.20" x2="66.34" y2="289.86" stroke="#1e4e84" stroke-width="0.95"/>
<circle cx="66.34" cy="289.86" r="0.9" fill="#1e4e84"/>
<line x1="35.40" y1="282.20" x2="56.51" y2="288.35" stroke="#1e4e84" stroke-width="0.95"/>
<circle cx="56.51" cy="288.35" r="0.9" fill="#1e4e84"/>
<line x1="35.40" y1="282.20" x2="62.64" y2="286.92" stroke="#1e4e84" stroke-width="0.95"/>
<circle cx="62.64" cy="286.92" r="0.9" fill="#1e4e84"/>
<line x1="35.40" y1="282.20" x2="72.45" y2="285.72" stroke="#1e4e84" stroke-width="0.95"/>
<circle cx="72.45" cy="285.72" r="0.9" fill="#1e4e84"/>
<line x1="35.40" y1="282.20" x2="65.10" y2="286.42" stroke="#1e4e84" stroke-width="0.95"/>
<circle cx="65.10" cy="286.42" r="0.9" fill="#1e4e84"/>
<line x1="35.40" y1="282.20" x2="67.80" y2="291.88" stroke="#1e4e84" stroke-width="0.95"/>
<circle cx="67.80" cy="291.88" r="0.9" fill="#1e4e84"/>
<line x1="35.40" y1="282.20" x2="71.55" y2="284.85" stroke="#1e4e84" stroke-width="0.95"/>
<circle cx="71.55" cy="284.85" r="0.9" fill="#1e4e84"/>
<line x1="35.40" y1="282.20" x2="71.13" y2="284.68" stroke="#1e4e84" stroke-width="0.95"/>
<circle cx="71.13" cy="284.68" r="0.9" fill="#1e4e84"/>
<line x1="35.40" y1="282.20" x2="63.03" y2="288.54" stroke="#1e4e84" stroke-width="0.95"/>
<circle cx="63.03" cy="288.54" r="0.9" fill="#1e4e84"/>
<line x1="35.40" y1="282.20" x2="58.18" y2="286.26" stroke="#1e4e84" stroke-width="0.95"/>
<circle cx="58.18" cy="286.26" r="0.9" fill="#1e4e84"/>
<line x1="35.40" y1="282.20" x2="57.49" y2="291.75" stroke="#1e4e84" stroke-width="0.95"/>
<circle cx="57.49" cy="291.75" r="0.9" fill="#1e4e84"/>
<line x1="35.40" y1="282.20" x2="59.95" y2="290.83" stroke="#1e4e84" stroke-width="0.95"/>
<circle cx="59.95" cy="290.83" r="0.9" fill="#1e4e84"/>
<line x1="35.40" y1="282.20" x2="62.15" y2="291.89" stroke="#1e4e84" stroke-width="0.95"/>
<circle cx="62.15" cy="291.89" r="0.9" fill="#1e4e84"/>
<line x1="35.40" y1="282.20" x2="56.44" y2="290.94" stroke="#1e4e84" stroke-width="0.95"/>
<circle cx="56.44" cy="290.94" r="0.9" fill="#1e4e84"/>
<line x1="35.40" y1="282.20" x2="58.14" y2="288.88" stroke="#1e4e84" stroke-width="0.95"/>
<circle cx="58.14" cy="288.88" r="0.9" fill="#1e4e84"/>
<line x1="35.40" y1="282.20" x2="56.87" y2="283.94" stroke="#1e4e84" stroke-width="0.95"/>
<circle cx="56.87" cy="283.94" r="0.9" fill="#1e4e84"/>
<line x1="35.40" y1="282.20" x2="66.76" y2="290.97" stroke="#1e4e84" stroke-width="0.95"/>
<circle cx="66.76" cy="290.97" r="0.9" fill="#1e4e84"/>
<line x1="35.40" y1="282.20" x2="60.68" y2="289.04" stroke="#1e4e84" stroke-width="0.95"/>
<circle cx="60.68" cy="289.04" r="0.9" fill="#1e4e84"/>
<line x1="35.40" y1="282.20" x2="58.46" y2="254.06" stroke="#e5157b" stroke-width="0.95"/>
<circle cx="58.46" cy="254.06" r="0.9" fill="#e5157b"/>
<line x1="35.40" y1="282.20" x2="59.13" y2="255.08" stroke="#e5157b" stroke-width="0.95"/>
<circle cx="59.13" cy="255.08" r="0.9" fill="#e5157b"/>
<line x1="35.40" y1="282.20" x2="92.56" y2="252.20" stroke="#e5157b" stroke-width="0.95"/>
<circle cx="92.56" cy="252.20" r="0.9" fill="#e5157b"/>
<line x1="35.40" y1="282.20" x2="68.20" y2="257.11" stroke="#e5157b" stroke-width="0.95"/>
<circle cx="68.20" cy="257.11" r="0.9" fill="#e5157b"/>
<line x1="35.40" y1="282.20" x2="69.88" y2="257.50" stroke="#e5157b" stroke-width="0.95"/>
<circle cx="69.88" cy="257.50" r="0.9" fill="#e5157b"/>
<line x1="35.40" y1="282.20" x2="91.72" y2="263.79" stroke="#e5157b" stroke-width="0.95"/>
<circle cx="91.72" cy="263.79" r="0.9" fill="#e5157b"/>
<line x1="35.40" y1="282.20" x2="97.10" y2="269.78" stroke="#e5157b" stroke-width="0.95"/>
<circle cx="97.10" cy="269.78" r="0.9" fill="#e5157b"/>
<line x1="35.40" y1="282.20" x2="91.72" y2="273.65" stroke="#e5157b" stroke-width="0.95"/>
<circle cx="91.72" cy="273.65" r="0.9" fill="#e5157b"/>
<line x1="35.40" y1="282.20" x2="71.56" y2="270.37" stroke="#e5157b" stroke-width="0.95"/>
<circle cx="71.56" cy="270.37" r="0.9" fill="#e5157b"/>
<line x1="35.40" y1="282.20" x2="73.24" y2="273.14" stroke="#e5157b" stroke-width="0.95"/>
<circle cx="73.24" cy="273.14" r="0.9" fill="#e5157b"/>
<line x1="35.40" y1="282.20" x2="66.52" y2="267.98" stroke="#e5157b" stroke-width="0.95"/>
<circle cx="66.52" cy="267.98" r="0.9" fill="#e5157b"/>
<line x1="35.40" y1="282.20" x2="73.24" y2="281.37" stroke="#e5157b" stroke-width="0.95"/>
<circle cx="73.24" cy="281.37" r="0.9" fill="#e5157b"/>
<line x1="35.40" y1="282.20" x2="68.20" y2="280.57" stroke="#e5157b" stroke-width="0.95"/>
<circle cx="68.20" cy="280.57" r="0.9" fill="#e5157b"/>
<line x1="35.40" y1="282.20" x2="59.70" y2="279.35" stroke="#e5157b" stroke-width="0.95"/>
<circle cx="59.70" cy="279.35" r="0.9" fill="#e5157b"/>
<line x1="35.40" y1="282.20" x2="63.00" y2="280.40" stroke="#e5157b" stroke-width="0.95"/>
<circle cx="63.00" cy="280.40" r="0.9" fill="#e5157b"/>
<line x1="35.40" y1="282.20" x2="61.84" y2="276.47" stroke="#e5157b" stroke-width="0.95"/>
<circle cx="61.84" cy="276.47" r="0.9" fill="#e5157b"/>
<line x1="35.40" y1="282.20" x2="57.02" y2="274.58" stroke="#e5157b" stroke-width="0.95"/>
<circle cx="57.02" cy="274.58" r="0.9" fill="#e5157b"/>
<line x1="35.40" y1="282.20" x2="56.82" y2="275.56" stroke="#e5157b" stroke-width="0.95"/>
<circle cx="56.82" cy="275.56" r="0.9" fill="#e5157b"/>
<line x1="35.40" y1="282.20" x2="57.14" y2="280.15" stroke="#e5157b" stroke-width="0.95"/>
<circle cx="57.14" cy="280.15" r="0.9" fill="#e5157b"/>
<line x1="35.40" y1="282.20" x2="60.72" y2="270.30" stroke="#e5157b" stroke-width="0.95"/>
<circle cx="60.72" cy="270.30" r="0.9" fill="#e5157b"/>
<line x1="35.40" y1="282.20" x2="57.69" y2="278.38" stroke="#e5157b" stroke-width="0.95"/>
<circle cx="57.69" cy="278.38" r="0.9" fill="#e5157b"/>
<line x1="35.40" y1="282.20" x2="62.76" y2="268.68" stroke="#e5157b" stroke-width="0.95"/>
<circle cx="62.76" cy="268.68" r="0.9" fill="#e5157b"/>
<line x1="35.40" y1="282.20" x2="62.26" y2="276.06" stroke="#e5157b" stroke-width="0.95"/>
<circle cx="62.26" cy="276.06" r="0.9" fill="#e5157b"/>
<line x1="35.40" y1="282.20" x2="66.28" y2="280.74" stroke="#e5157b" stroke-width="0.95"/>
<circle cx="66.28" cy="280.74" r="0.9" fill="#e5157b"/>
<line x1="35.40" y1="282.20" x2="65.09" y2="277.49" stroke="#e5157b" stroke-width="0.95"/>
<circle cx="65.09" cy="277.49" r="0.9" fill="#e5157b"/>
<line x1="35.40" y1="282.20" x2="57.89" y2="279.79" stroke="#e5157b" stroke-width="0.95"/>
<circle cx="57.89" cy="279.79" r="0.9" fill="#e5157b"/>
<line x1="35.40" y1="282.20" x2="59.55" y2="270.44" stroke="#e5157b" stroke-width="0.95"/>
<circle cx="59.55" cy="270.44" r="0.9" fill="#e5157b"/>
<line x1="35.40" y1="282.20" x2="58.26" y2="273.58" stroke="#e5157b" stroke-width="0.95"/>
<circle cx="58.26" cy="273.58" r="0.9" fill="#e5157b"/>
<line x1="35.40" y1="282.20" x2="62.88" y2="276.38" stroke="#e5157b" stroke-width="0.95"/>
<circle cx="62.88" cy="276.38" r="0.9" fill="#e5157b"/>
<line x1="35.40" y1="282.20" x2="61.96" y2="280.53" stroke="#e5157b" stroke-width="0.95"/>
<circle cx="61.96" cy="280.53" r="0.9" fill="#e5157b"/>
<line x1="35.40" y1="282.20" x2="57.04" y2="278.61" stroke="#e5157b" stroke-width="0.95"/>
<circle cx="57.04" cy="278.61" r="0.9" fill="#e5157b"/>
<line x1="35.40" y1="282.20" x2="63.30" y2="275.64" stroke="#e5157b" stroke-width="0.95"/>
<circle cx="63.30" cy="275.64" r="0.9" fill="#e5157b"/>
<line x1="35.40" y1="282.20" x2="59.61" y2="273.53" stroke="#e5157b" stroke-width="0.95"/>
<circle cx="59.61" cy="273.53" r="0.9" fill="#e5157b"/>
<line x1="35.40" y1="282.20" x2="61.01" y2="277.36" stroke="#e5157b" stroke-width="0.95"/>
<circle cx="61.01" cy="277.36" r="0.9" fill="#e5157b"/>
<line x1="35.40" y1="282.20" x2="64.45" y2="272.01" stroke="#e5157b" stroke-width="0.95"/>
<circle cx="64.45" cy="272.01" r="0.9" fill="#e5157b"/>
<line x1="35.40" y1="282.20" x2="58.90" y2="273.68" stroke="#e5157b" stroke-width="0.95"/>
<circle cx="58.90" cy="273.68" r="0.9" fill="#e5157b"/>
<line x1="35.40" y1="282.20" x2="61.73" y2="269.66" stroke="#e5157b" stroke-width="0.95"/>
<circle cx="61.73" cy="269.66" r="0.9" fill="#e5157b"/>
<line x1="35.40" y1="282.20" x2="63.79" y2="277.51" stroke="#e5157b" stroke-width="0.95"/>
<circle cx="63.79" cy="277.51" r="0.9" fill="#e5157b"/>
<line x1="35.40" y1="282.20" x2="66.32" y2="279.79" stroke="#e5157b" stroke-width="0.95"/>
<circle cx="66.32" cy="279.79" r="0.9" fill="#e5157b"/>
<line x1="35.40" y1="282.20" x2="60.65" y2="271.23" stroke="#e5157b" stroke-width="0.95"/>
<circle cx="60.65" cy="271.23" r="0.9" fill="#e5157b"/>
<line x1="35.40" y1="282.20" x2="57.97" y2="274.82" stroke="#e5157b" stroke-width="0.95"/>
<circle cx="57.97" cy="274.82" r="0.9" fill="#e5157b"/>
<line x1="35.40" y1="282.20" x2="56.84" y2="272.42" stroke="#e5157b" stroke-width="0.95"/>
<circle cx="56.84" cy="272.42" r="0.9" fill="#e5157b"/>
<line x1="35.40" y1="282.20" x2="64.15" y2="273.70" stroke="#e5157b" stroke-width="0.95"/>
<circle cx="64.15" cy="273.70" r="0.9" fill="#e5157b"/>
<line x1="35.40" y1="282.20" x2="65.26" y2="277.17" stroke="#e5157b" stroke-width="0.95"/>
<circle cx="65.26" cy="277.17" r="0.9" fill="#e5157b"/>
<line x1="35.40" y1="282.20" x2="63.45" y2="273.41" stroke="#e5157b" stroke-width="0.95"/>
<circle cx="63.45" cy="273.41" r="0.9" fill="#e5157b"/>
<line x1="35.40" y1="282.20" x2="62.29" y2="275.26" stroke="#e5157b" stroke-width="0.95"/>
<circle cx="62.29" cy="275.26" r="0.9" fill="#e5157b"/>
<line x1="35.40" y1="282.20" x2="64.91" y2="268.72" stroke="#e5157b" stroke-width="0.95"/>
<circle cx="64.91" cy="268.72" r="0.9" fill="#e5157b"/>
<line x1="35.40" y1="282.20" x2="61.22" y2="272.48" stroke="#e5157b" stroke-width="0.95"/>
<circle cx="61.22" cy="272.48" r="0.9" fill="#e5157b"/>
<line x1="35.40" y1="282.20" x2="57.05" y2="271.98" stroke="#e5157b" stroke-width="0.95"/>
<circle cx="57.05" cy="271.98" r="0.9" fill="#e5157b"/>
<line x1="35.40" y1="282.20" x2="62.96" y2="268.08" stroke="#e5157b" stroke-width="0.95"/>
<circle cx="62.96" cy="268.08" r="0.9" fill="#e5157b"/>
<line x1="35.40" y1="282.20" x2="64.73" y2="277.56" stroke="#e5157b" stroke-width="0.95"/>
<circle cx="64.73" cy="277.56" r="0.9" fill="#e5157b"/>
</g>
<rect x="31.50" y="229.50" width="68.70" height="96.30" fill="none" stroke="#262626" stroke-width="1.1"/>
</g>
<g>
<text x="169.00" y="224.70" font-size="8.2" text-anchor="middle" fill="#2a2a2a" textLength="18.20" lengthAdjust="spacingAndGlyphs">TET2</text>
<line x1="132.00" y1="235.98" x2="134.50" y2="235.98" stroke="#262626" stroke-width="0.9"/>
<text x="128.50" y="238.13" font-size="6.0" text-anchor="end" fill="#2a2a2a">15</text>
<line x1="132.00" y1="242.90" x2="134.50" y2="242.90" stroke="#262626" stroke-width="0.9"/>
<text x="128.50" y="245.05" font-size="6.0" text-anchor="end" fill="#2a2a2a">10</text>
<line x1="132.00" y1="254.73" x2="134.50" y2="254.73" stroke="#262626" stroke-width="0.9"/>
<text x="128.50" y="256.88" font-size="6.0" text-anchor="end" fill="#2a2a2a">5</text>
<line x1="132.00" y1="263.45" x2="134.50" y2="263.45" stroke="#262626" stroke-width="0.9"/>
<text x="128.50" y="265.60" font-size="6.0" text-anchor="end" fill="#2a2a2a">3</text>
<line x1="132.00" y1="270.37" x2="134.50" y2="270.37" stroke="#262626" stroke-width="0.9"/>
<text x="128.50" y="272.52" font-size="6.0" text-anchor="end" fill="#2a2a2a">2</text>
<line x1="132.00" y1="282.20" x2="134.50" y2="282.20" stroke="#262626" stroke-width="0.9"/>
<text x="128.50" y="284.35" font-size="6.0" text-anchor="end" fill="#2a2a2a">1</text>
<line x1="132.00" y1="294.03" x2="134.50" y2="294.03" stroke="#262626" stroke-width="0.9"/>
<text x="128.50" y="296.18" font-size="6.0" text-anchor="end" fill="#2a2a2a">0.5</text>
<line x1="132.00" y1="302.75" x2="134.50" y2="302.75" stroke="#262626" stroke-width="0.9"/>
<text x="128.50" y="304.90" font-size="6.0" text-anchor="end" fill="#2a2a2a">0.3</text>
<line x1="132.00" y1="309.67" x2="134.50" y2="309.67" stroke="#262626" stroke-width="0.9"/>
<text x="128.50" y="311.82" font-size="6.0" text-anchor="end" fill="#2a2a2a">0.2</text>
<line x1="132.00" y1="321.50" x2="134.50" y2="321.50" stroke="#262626" stroke-width="0.9"/>
<text x="128.50" y="323.65" font-size="6.0" text-anchor="end" fill="#2a2a2a">0.1</text>
<line x1="137.50" y1="325.80" x2="137.50" y2="328.00" stroke="#262626" stroke-width="0.9"/>
<text x="137.20" y="336.20" font-size="6.0" text-anchor="middle" fill="#2a2a2a">0</text>
<line x1="154.30" y1="325.80" x2="154.30" y2="328.00" stroke="#262626" stroke-width="0.9"/>
<text x="154.00" y="336.20" font-size="6.0" text-anchor="middle" fill="#2a2a2a">10</text>
<line x1="171.10" y1="325.80" x2="171.10" y2="328.00" stroke="#262626" stroke-width="0.9"/>
<text x="170.80" y="336.20" font-size="6.0" text-anchor="middle" fill="#2a2a2a">20</text>
<line x1="187.90" y1="325.80" x2="187.90" y2="328.00" stroke="#262626" stroke-width="0.9"/>
<text x="187.60" y="336.20" font-size="6.0" text-anchor="middle" fill="#2a2a2a">30</text>
<text x="0" y="0" font-size="8.1" text-anchor="middle" fill="#2a2a2a" textLength="66.30" lengthAdjust="spacingAndGlyphs" stroke="#2a2a2a" stroke-width="0.32" transform="translate(115.90,277.65) rotate(-90)">Relative fold change in VAF</text>
<text x="169.00" y="347.90" font-size="8.1" text-anchor="middle" fill="#2a2a2a" textLength="62.3" lengthAdjust="spacingAndGlyphs" stroke="#2a2a2a" stroke-width="0.32">Follow-up post treatment</text>
<text x="169.30" y="357.00" font-size="8.1" text-anchor="middle" fill="#2a2a2a" textLength="22.0" lengthAdjust="spacingAndGlyphs" stroke="#2a2a2a" stroke-width="0.32">(months)</text>
<clipPath id="cb1"><rect x="134.50" y="229.50" width="69.00" height="96.30"/></clipPath>
<g clip-path="url(#cb1)">
<line x1="134.50" y1="282.20" x2="203.50" y2="282.20" stroke="#3a3a3a" stroke-width="1.0" stroke-dasharray="3.1 3.05"/>
<line x1="138.30" y1="282.20" x2="200.50" y2="276.95" stroke="#f08ab8" stroke-width="1.7"/>
<line x1="138.30" y1="282.20" x2="200.50" y2="277.99" stroke="#f29ac2" stroke-width="1.7"/>
<line x1="138.30" y1="282.20" x2="200.50" y2="279.09" stroke="#ee7fb0" stroke-width="1.2"/>
<line x1="138.30" y1="282.20" x2="194.62" y2="276.22" stroke="#f07fb2" stroke-width="1.2"/>
<line x1="138.30" y1="282.20" x2="194.62" y2="281.21" stroke="#e0559a" stroke-width="0.9"/>
<line x1="138.30" y1="282.20" x2="174.46" y2="284.77" stroke="#8fb0cc" stroke-width="1.2"/>
<line x1="138.30" y1="282.20" x2="177.82" y2="286.01" stroke="#7fa0c0" stroke-width="1.0"/>
<line x1="138.30" y1="282.20" x2="194.62" y2="293.79" stroke="#1e4e84" stroke-width="0.95"/>
<circle cx="194.62" cy="293.79" r="0.9" fill="#1e4e84"/>
<line x1="138.30" y1="282.20" x2="179.00" y2="298.49" stroke="#1e4e84" stroke-width="0.95"/>
<circle cx="179.00" cy="298.49" r="0.9" fill="#1e4e84"/>
<line x1="138.30" y1="282.20" x2="170.60" y2="300.36" stroke="#1e4e84" stroke-width="0.95"/>
<circle cx="170.60" cy="300.36" r="0.9" fill="#1e4e84"/>
<line x1="138.30" y1="282.20" x2="165.05" y2="307.28" stroke="#1e4e84" stroke-width="0.95"/>
<circle cx="165.05" cy="307.28" r="0.9" fill="#1e4e84"/>
<line x1="138.30" y1="282.20" x2="174.96" y2="287.57" stroke="#1e4e84" stroke-width="0.95"/>
<circle cx="174.96" cy="287.57" r="0.9" fill="#1e4e84"/>
<line x1="138.30" y1="282.20" x2="180.51" y2="290.64" stroke="#1e4e84" stroke-width="0.95"/>
<circle cx="180.51" cy="290.64" r="0.9" fill="#1e4e84"/>
<line x1="138.30" y1="282.20" x2="174.46" y2="284.00" stroke="#1e4e84" stroke-width="0.95"/>
<circle cx="174.46" cy="284.00" r="0.9" fill="#1e4e84"/>
<line x1="138.30" y1="282.20" x2="171.10" y2="288.29" stroke="#1e4e84" stroke-width="0.95"/>
<circle cx="171.10" cy="288.29" r="0.9" fill="#1e4e84"/>
<line x1="138.30" y1="282.20" x2="195.46" y2="284.00" stroke="#1e4e84" stroke-width="0.95"/>
<circle cx="195.46" cy="284.00" r="0.9" fill="#1e4e84"/>
<line x1="138.30" y1="282.20" x2="158.21" y2="284.97" stroke="#1e4e84" stroke-width="0.95"/>
<circle cx="158.21" cy="284.97" r="0.9" fill="#1e4e84"/>
<line x1="138.30" y1="282.20" x2="165.73" y2="289.55" stroke="#1e4e84" stroke-width="0.95"/>
<circle cx="165.73" cy="289.55" r="0.9" fill="#1e4e84"/>
<line x1="138.30" y1="282.20" x2="159.02" y2="283.32" stroke="#1e4e84" stroke-width="0.95"/>
<circle cx="159.02" cy="283.32" r="0.9" fill="#1e4e84"/>
<line x1="138.30" y1="282.20" x2="162.82" y2="292.11" stroke="#1e4e84" stroke-width="0.95"/>
<circle cx="162.82" cy="292.11" r="0.9" fill="#1e4e84"/>
<line x1="138.30" y1="282.20" x2="155.79" y2="292.32" stroke="#1e4e84" stroke-width="0.95"/>
<circle cx="155.79" cy="292.32" r="0.9" fill="#1e4e84"/>
<line x1="138.30" y1="282.20" x2="164.94" y2="284.91" stroke="#1e4e84" stroke-width="0.95"/>
<circle cx="164.94" cy="284.91" r="0.9" fill="#1e4e84"/>
<line x1="138.30" y1="282.20" x2="156.02" y2="284.68" stroke="#1e4e84" stroke-width="0.95"/>
<circle cx="156.02" cy="284.68" r="0.9" fill="#1e4e84"/>
<line x1="138.30" y1="282.20" x2="165.83" y2="286.60" stroke="#1e4e84" stroke-width="0.95"/>
<circle cx="165.83" cy="286.60" r="0.9" fill="#1e4e84"/>
<line x1="138.30" y1="282.20" x2="158.42" y2="287.82" stroke="#1e4e84" stroke-width="0.95"/>
<circle cx="158.42" cy="287.82" r="0.9" fill="#1e4e84"/>
<line x1="138.30" y1="282.20" x2="155.84" y2="293.87" stroke="#1e4e84" stroke-width="0.95"/>
<circle cx="155.84" cy="293.87" r="0.9" fill="#1e4e84"/>
<line x1="138.30" y1="282.20" x2="165.72" y2="286.68" stroke="#1e4e84" stroke-width="0.95"/>
<circle cx="165.72" cy="286.68" r="0.9" fill="#1e4e84"/>
<line x1="138.30" y1="282.20" x2="160.49" y2="283.47" stroke="#1e4e84" stroke-width="0.95"/>
<circle cx="160.49" cy="283.47" r="0.9" fill="#1e4e84"/>
<line x1="138.30" y1="282.20" x2="159.40" y2="284.17" stroke="#1e4e84" stroke-width="0.95"/>
<circle cx="159.40" cy="284.17" r="0.9" fill="#1e4e84"/>
<line x1="138.30" y1="282.20" x2="164.02" y2="291.64" stroke="#1e4e84" stroke-width="0.95"/>
<circle cx="164.02" cy="291.64" r="0.9" fill="#1e4e84"/>
<line x1="138.30" y1="282.20" x2="157.26" y2="290.72" stroke="#1e4e84" stroke-width="0.95"/>
<circle cx="157.26" cy="290.72" r="0.9" fill="#1e4e84"/>
<line x1="138.30" y1="282.20" x2="157.13" y2="287.40" stroke="#1e4e84" stroke-width="0.95"/>
<circle cx="157.13" cy="287.40" r="0.9" fill="#1e4e84"/>
<line x1="138.30" y1="282.20" x2="157.35" y2="289.29" stroke="#1e4e84" stroke-width="0.95"/>
<circle cx="157.35" cy="289.29" r="0.9" fill="#1e4e84"/>
<line x1="138.30" y1="282.20" x2="155.84" y2="283.74" stroke="#1e4e84" stroke-width="0.95"/>
<circle cx="155.84" cy="283.74" r="0.9" fill="#1e4e84"/>
<line x1="138.30" y1="282.20" x2="158.46" y2="288.85" stroke="#1e4e84" stroke-width="0.95"/>
<circle cx="158.46" cy="288.85" r="0.9" fill="#1e4e84"/>
<line x1="138.30" y1="282.20" x2="161.16" y2="283.80" stroke="#1e4e84" stroke-width="0.95"/>
<circle cx="161.16" cy="283.80" r="0.9" fill="#1e4e84"/>
<line x1="138.30" y1="282.20" x2="195.12" y2="252.58" stroke="#e5157b" stroke-width="0.95"/>
<circle cx="195.12" cy="252.58" r="0.9" fill="#e5157b"/>
<line x1="138.30" y1="282.20" x2="194.62" y2="255.08" stroke="#e5157b" stroke-width="0.95"/>
<circle cx="194.62" cy="255.08" r="0.9" fill="#e5157b"/>
<line x1="138.30" y1="282.20" x2="164.88" y2="263.11" stroke="#e5157b" stroke-width="0.95"/>
<circle cx="164.88" cy="263.11" r="0.9" fill="#e5157b"/>
<line x1="138.30" y1="282.20" x2="194.62" y2="266.22" stroke="#e5157b" stroke-width="0.95"/>
<circle cx="194.62" cy="266.22" r="0.9" fill="#e5157b"/>
<line x1="138.30" y1="282.20" x2="174.29" y2="269.78" stroke="#e5157b" stroke-width="0.95"/>
<circle cx="174.29" cy="269.78" r="0.9" fill="#e5157b"/>
<line x1="138.30" y1="282.20" x2="194.62" y2="272.45" stroke="#e5157b" stroke-width="0.95"/>
<circle cx="194.62" cy="272.45" r="0.9" fill="#e5157b"/>
<line x1="138.30" y1="282.20" x2="182.02" y2="272.65" stroke="#e5157b" stroke-width="0.95"/>
<circle cx="182.02" cy="272.65" r="0.9" fill="#e5157b"/>
<line x1="138.30" y1="282.20" x2="165.05" y2="267.98" stroke="#e5157b" stroke-width="0.95"/>
<circle cx="165.05" cy="267.98" r="0.9" fill="#e5157b"/>
<line x1="138.30" y1="282.20" x2="177.82" y2="275.28" stroke="#e5157b" stroke-width="0.95"/>
<circle cx="177.82" cy="275.28" r="0.9" fill="#e5157b"/>
<line x1="138.30" y1="282.20" x2="187.90" y2="274.18" stroke="#e5157b" stroke-width="0.95"/>
<circle cx="187.90" cy="274.18" r="0.9" fill="#e5157b"/>
<line x1="138.30" y1="282.20" x2="164.38" y2="264.03" stroke="#e5157b" stroke-width="0.95"/>
<circle cx="164.38" cy="264.03" r="0.9" fill="#e5157b"/>
<line x1="138.30" y1="282.20" x2="163.54" y2="265.25" stroke="#e5157b" stroke-width="0.95"/>
<circle cx="163.54" cy="265.25" r="0.9" fill="#e5157b"/>
<line x1="138.30" y1="282.20" x2="165.72" y2="266.56" stroke="#e5157b" stroke-width="0.95"/>
<circle cx="165.72" cy="266.56" r="0.9" fill="#e5157b"/>
<line x1="138.30" y1="282.20" x2="171.10" y2="267.98" stroke="#e5157b" stroke-width="0.95"/>
<circle cx="171.10" cy="267.98" r="0.9" fill="#e5157b"/>
<line x1="138.30" y1="282.20" x2="168.36" y2="279.82" stroke="#e5157b" stroke-width="0.95"/>
<circle cx="168.36" cy="279.82" r="0.9" fill="#e5157b"/>
<line x1="138.30" y1="282.20" x2="178.13" y2="268.83" stroke="#e5157b" stroke-width="0.95"/>
<circle cx="178.13" cy="268.83" r="0.9" fill="#e5157b"/>
<line x1="138.30" y1="282.20" x2="170.41" y2="275.26" stroke="#e5157b" stroke-width="0.95"/>
<circle cx="170.41" cy="275.26" r="0.9" fill="#e5157b"/>
<line x1="138.30" y1="282.20" x2="162.75" y2="280.08" stroke="#e5157b" stroke-width="0.95"/>
<circle cx="162.75" cy="280.08" r="0.9" fill="#e5157b"/>
<line x1="138.30" y1="282.20" x2="167.93" y2="278.02" stroke="#e5157b" stroke-width="0.95"/>
<circle cx="167.93" cy="278.02" r="0.9" fill="#e5157b"/>
<line x1="138.30" y1="282.20" x2="177.73" y2="279.33" stroke="#e5157b" stroke-width="0.95"/>
<circle cx="177.73" cy="279.33" r="0.9" fill="#e5157b"/>
<line x1="138.30" y1="282.20" x2="161.49" y2="269.36" stroke="#e5157b" stroke-width="0.95"/>
<circle cx="161.49" cy="269.36" r="0.9" fill="#e5157b"/>
<line x1="138.30" y1="282.20" x2="171.67" y2="279.52" stroke="#e5157b" stroke-width="0.95"/>
<circle cx="171.67" cy="279.52" r="0.9" fill="#e5157b"/>
<line x1="138.30" y1="282.20" x2="171.97" y2="281.03" stroke="#e5157b" stroke-width="0.95"/>
<circle cx="171.97" cy="281.03" r="0.9" fill="#e5157b"/>
<line x1="138.30" y1="282.20" x2="171.67" y2="269.01" stroke="#e5157b" stroke-width="0.95"/>
<circle cx="171.67" cy="269.01" r="0.9" fill="#e5157b"/>
<line x1="138.30" y1="282.20" x2="178.42" y2="272.58" stroke="#e5157b" stroke-width="0.95"/>
<circle cx="178.42" cy="272.58" r="0.9" fill="#e5157b"/>
<line x1="138.30" y1="282.20" x2="166.28" y2="276.74" stroke="#e5157b" stroke-width="0.95"/>
<circle cx="166.28" cy="276.74" r="0.9" fill="#e5157b"/>
<line x1="138.30" y1="282.20" x2="164.39" y2="271.62" stroke="#e5157b" stroke-width="0.95"/>
<circle cx="164.39" cy="271.62" r="0.9" fill="#e5157b"/>
<line x1="138.30" y1="282.20" x2="171.76" y2="271.53" stroke="#e5157b" stroke-width="0.95"/>
<circle cx="171.76" cy="271.53" r="0.9" fill="#e5157b"/>
<line x1="138.30" y1="282.20" x2="167.67" y2="278.55" stroke="#e5157b" stroke-width="0.95"/>
<circle cx="167.67" cy="278.55" r="0.9" fill="#e5157b"/>
<line x1="138.30" y1="282.20" x2="177.38" y2="268.93" stroke="#e5157b" stroke-width="0.95"/>
<circle cx="177.38" cy="268.93" r="0.9" fill="#e5157b"/>
<line x1="138.30" y1="282.20" x2="178.21" y2="271.19" stroke="#e5157b" stroke-width="0.95"/>
<circle cx="178.21" cy="271.19" r="0.9" fill="#e5157b"/>
<line x1="138.30" y1="282.20" x2="177.52" y2="272.03" stroke="#e5157b" stroke-width="0.95"/>
<circle cx="177.52" cy="272.03" r="0.9" fill="#e5157b"/>
<line x1="138.30" y1="282.20" x2="165.59" y2="274.83" stroke="#e5157b" stroke-width="0.95"/>
<circle cx="165.59" cy="274.83" r="0.9" fill="#e5157b"/>
<line x1="138.30" y1="282.20" x2="168.19" y2="281.00" stroke="#e5157b" stroke-width="0.95"/>
<circle cx="168.19" cy="281.00" r="0.9" fill="#e5157b"/>
<line x1="138.30" y1="282.20" x2="161.58" y2="277.84" stroke="#e5157b" stroke-width="0.95"/>
<circle cx="161.58" cy="277.84" r="0.9" fill="#e5157b"/>
<line x1="138.30" y1="282.20" x2="166.24" y2="272.62" stroke="#e5157b" stroke-width="0.95"/>
<circle cx="166.24" cy="272.62" r="0.9" fill="#e5157b"/>
<line x1="138.30" y1="282.20" x2="180.30" y2="275.72" stroke="#e5157b" stroke-width="0.95"/>
<circle cx="180.30" cy="275.72" r="0.9" fill="#e5157b"/>
<line x1="138.30" y1="282.20" x2="179.91" y2="268.89" stroke="#e5157b" stroke-width="0.95"/>
<circle cx="179.91" cy="268.89" r="0.9" fill="#e5157b"/>
<line x1="138.30" y1="282.20" x2="180.27" y2="276.76" stroke="#e5157b" stroke-width="0.95"/>
<circle cx="180.27" cy="276.76" r="0.9" fill="#e5157b"/>
<line x1="138.30" y1="282.20" x2="165.46" y2="278.50" stroke="#e5157b" stroke-width="0.95"/>
<circle cx="165.46" cy="278.50" r="0.9" fill="#e5157b"/>
<line x1="138.30" y1="282.20" x2="164.99" y2="278.79" stroke="#e5157b" stroke-width="0.95"/>
<circle cx="164.99" cy="278.79" r="0.9" fill="#e5157b"/>
<line x1="138.30" y1="282.20" x2="173.60" y2="270.00" stroke="#e5157b" stroke-width="0.95"/>
<circle cx="173.60" cy="270.00" r="0.9" fill="#e5157b"/>
<line x1="138.30" y1="282.20" x2="177.96" y2="275.31" stroke="#e5157b" stroke-width="0.95"/>
<circle cx="177.96" cy="275.31" r="0.9" fill="#e5157b"/>
<line x1="138.30" y1="282.20" x2="174.18" y2="271.27" stroke="#e5157b" stroke-width="0.95"/>
<circle cx="174.18" cy="271.27" r="0.9" fill="#e5157b"/>
<line x1="138.30" y1="282.20" x2="162.73" y2="273.03" stroke="#e5157b" stroke-width="0.95"/>
<circle cx="162.73" cy="273.03" r="0.9" fill="#e5157b"/>
<line x1="138.30" y1="282.20" x2="179.36" y2="271.49" stroke="#e5157b" stroke-width="0.95"/>
<circle cx="179.36" cy="271.49" r="0.9" fill="#e5157b"/>
<line x1="138.30" y1="282.20" x2="176.14" y2="275.33" stroke="#e5157b" stroke-width="0.95"/>
<circle cx="176.14" cy="275.33" r="0.9" fill="#e5157b"/>
<line x1="138.30" y1="282.20" x2="164.62" y2="271.40" stroke="#e5157b" stroke-width="0.95"/>
<circle cx="164.62" cy="271.40" r="0.9" fill="#e5157b"/>
</g>
<rect x="134.50" y="229.50" width="69.00" height="96.30" fill="none" stroke="#262626" stroke-width="1.1"/>
</g>
<g>
<text x="270.65" y="224.70" font-size="8.2" text-anchor="middle" fill="#2a2a2a" textLength="18.70" lengthAdjust="spacingAndGlyphs">TP53</text>
<line x1="234.00" y1="235.98" x2="236.50" y2="235.98" stroke="#262626" stroke-width="0.9"/>
<text x="230.50" y="238.13" font-size="6.0" text-anchor="end" fill="#2a2a2a">15</text>
<line x1="234.00" y1="242.90" x2="236.50" y2="242.90" stroke="#262626" stroke-width="0.9"/>
<text x="230.50" y="245.05" font-size="6.0" text-anchor="end" fill="#2a2a2a">10</text>
<line x1="234.00" y1="254.73" x2="236.50" y2="254.73" stroke="#262626" stroke-width="0.9"/>
<text x="230.50" y="256.88" font-size="6.0" text-anchor="end" fill="#2a2a2a">5</text>
<line x1="234.00" y1="263.45" x2="236.50" y2="263.45" stroke="#262626" stroke-width="0.9"/>
<text x="230.50" y="265.60" font-size="6.0" text-anchor="end" fill="#2a2a2a">3</text>
<line x1="234.00" y1="270.37" x2="236.50" y2="270.37" stroke="#262626" stroke-width="0.9"/>
<text x="230.50" y="272.52" font-size="6.0" text-anchor="end" fill="#2a2a2a">2</text>
<line x1="234.00" y1="282.20" x2="236.50" y2="282.20" stroke="#262626" stroke-width="0.9"/>
<text x="230.50" y="284.35" font-size="6.0" text-anchor="end" fill="#2a2a2a">1</text>
<line x1="234.00" y1="294.03" x2="236.50" y2="294.03" stroke="#262626" stroke-width="0.9"/>
<text x="230.50" y="296.18" font-size="6.0" text-anchor="end" fill="#2a2a2a">0.5</text>
<line x1="234.00" y1="302.75" x2="236.50" y2="302.75" stroke="#262626" stroke-width="0.9"/>
<text x="230.50" y="304.90" font-size="6.0" text-anchor="end" fill="#2a2a2a">0.3</text>
<line x1="234.00" y1="309.67" x2="236.50" y2="309.67" stroke="#262626" stroke-width="0.9"/>
<text x="230.50" y="311.82" font-size="6.0" text-anchor="end" fill="#2a2a2a">0.2</text>
<line x1="234.00" y1="321.50" x2="236.50" y2="321.50" stroke="#262626" stroke-width="0.9"/>
<text x="230.50" y="323.65" font-size="6.0" text-anchor="end" fill="#2a2a2a">0.1</text>
<line x1="239.20" y1="325.80" x2="239.20" y2="328.00" stroke="#262626" stroke-width="0.9"/>
<text x="238.90" y="336.20" font-size="6.0" text-anchor="middle" fill="#2a2a2a">0</text>
<line x1="256.00" y1="325.80" x2="256.00" y2="328.00" stroke="#262626" stroke-width="0.9"/>
<text x="255.70" y="336.20" font-size="6.0" text-anchor="middle" fill="#2a2a2a">10</text>
<line x1="272.80" y1="325.80" x2="272.80" y2="328.00" stroke="#262626" stroke-width="0.9"/>
<text x="272.50" y="336.20" font-size="6.0" text-anchor="middle" fill="#2a2a2a">20</text>
<line x1="289.60" y1="325.80" x2="289.60" y2="328.00" stroke="#262626" stroke-width="0.9"/>
<text x="289.30" y="336.20" font-size="6.0" text-anchor="middle" fill="#2a2a2a">30</text>
<text x="0" y="0" font-size="8.1" text-anchor="middle" fill="#2a2a2a" textLength="66.30" lengthAdjust="spacingAndGlyphs" stroke="#2a2a2a" stroke-width="0.32" transform="translate(216.60,277.65) rotate(-90)">Relative fold change in VAF</text>
<text x="270.65" y="347.90" font-size="8.1" text-anchor="middle" fill="#2a2a2a" textLength="62.3" lengthAdjust="spacingAndGlyphs" stroke="#2a2a2a" stroke-width="0.32">Follow-up post treatment</text>
<text x="270.95" y="357.00" font-size="8.1" text-anchor="middle" fill="#2a2a2a" textLength="22.0" lengthAdjust="spacingAndGlyphs" stroke="#2a2a2a" stroke-width="0.32">(months)</text>
<clipPath id="cb2"><rect x="236.50" y="229.50" width="68.30" height="96.30"/></clipPath>
<g clip-path="url(#cb2)">
<line x1="236.50" y1="282.20" x2="304.80" y2="282.20" stroke="#3a3a3a" stroke-width="1.0" stroke-dasharray="3.1 3.05"/>
<line x1="240.00" y1="282.20" x2="276.66" y2="285.80" stroke="#1e4e84" stroke-width="0.95"/>
<circle cx="276.66" cy="285.80" r="0.9" fill="#1e4e84"/>
<line x1="240.00" y1="282.20" x2="276.66" y2="294.20" stroke="#1e4e84" stroke-width="0.95"/>
<circle cx="276.66" cy="294.20" r="0.9" fill="#1e4e84"/>
<line x1="240.00" y1="282.20" x2="266.58" y2="296.21" stroke="#1e4e84" stroke-width="0.95"/>
<circle cx="266.58" cy="296.21" r="0.9" fill="#1e4e84"/>
<line x1="240.00" y1="282.20" x2="258.52" y2="294.03" stroke="#1e4e84" stroke-width="0.95"/>
<circle cx="258.52" cy="294.03" r="0.9" fill="#1e4e84"/>
<line x1="240.00" y1="282.20" x2="264.40" y2="288.29" stroke="#1e4e84" stroke-width="0.95"/>
<circle cx="264.40" cy="288.29" r="0.9" fill="#1e4e84"/>
<line x1="240.00" y1="282.20" x2="258.52" y2="236.44" stroke="#e5157b" stroke-width="0.95"/>
<circle cx="258.52" cy="236.44" r="0.9" fill="#e5157b"/>
<line x1="240.00" y1="282.20" x2="251.97" y2="243.24" stroke="#e5157b" stroke-width="0.95"/>
<circle cx="251.97" cy="243.24" r="0.9" fill="#e5157b"/>
<line x1="240.00" y1="282.20" x2="283.72" y2="252.20" stroke="#e5157b" stroke-width="0.95"/>
<circle cx="283.72" cy="252.20" r="0.9" fill="#e5157b"/>
<line x1="240.00" y1="282.20" x2="263.39" y2="256.53" stroke="#e5157b" stroke-width="0.95"/>
<circle cx="263.39" cy="256.53" r="0.9" fill="#e5157b"/>
<line x1="240.00" y1="282.20" x2="267.09" y2="257.83" stroke="#e5157b" stroke-width="0.95"/>
<circle cx="267.09" cy="257.83" r="0.9" fill="#e5157b"/>
<line x1="240.00" y1="282.20" x2="283.72" y2="260.01" stroke="#e5157b" stroke-width="0.95"/>
<circle cx="283.72" cy="260.01" r="0.9" fill="#e5157b"/>
<line x1="240.00" y1="282.20" x2="283.38" y2="264.81" stroke="#e5157b" stroke-width="0.95"/>
<circle cx="283.38" cy="264.81" r="0.9" fill="#e5157b"/>
<line x1="240.00" y1="282.20" x2="302.03" y2="266.56" stroke="#e5157b" stroke-width="0.95"/>
<circle cx="302.03" cy="266.56" r="0.9" fill="#e5157b"/>
<line x1="240.00" y1="282.20" x2="296.49" y2="270.37" stroke="#e5157b" stroke-width="0.95"/>
<circle cx="296.49" cy="270.37" r="0.9" fill="#e5157b"/>
<line x1="240.00" y1="282.20" x2="273.81" y2="275.05" stroke="#e5157b" stroke-width="0.95"/>
<circle cx="273.81" cy="275.05" r="0.9" fill="#e5157b"/>
<line x1="240.00" y1="282.20" x2="275.82" y2="277.33" stroke="#e5157b" stroke-width="0.95"/>
<circle cx="275.82" cy="277.33" r="0.9" fill="#e5157b"/>
<line x1="240.00" y1="282.20" x2="277.84" y2="279.09" stroke="#e5157b" stroke-width="0.95"/>
<circle cx="277.84" cy="279.09" r="0.9" fill="#e5157b"/>
<line x1="240.00" y1="282.20" x2="296.49" y2="281.05" stroke="#e5157b" stroke-width="0.95"/>
<circle cx="296.49" cy="281.05" r="0.9" fill="#e5157b"/>
<line x1="240.00" y1="282.20" x2="274.98" y2="262.51" stroke="#e5157b" stroke-width="0.95"/>
<circle cx="274.98" cy="262.51" r="0.9" fill="#e5157b"/>
<line x1="240.00" y1="282.20" x2="252.64" y2="254.73" stroke="#e5157b" stroke-width="0.95"/>
<circle cx="252.64" cy="254.73" r="0.9" fill="#e5157b"/>
<line x1="240.00" y1="282.20" x2="259.36" y2="263.45" stroke="#e5157b" stroke-width="0.95"/>
<circle cx="259.36" cy="263.45" r="0.9" fill="#e5157b"/>
<line x1="240.00" y1="282.20" x2="256.00" y2="268.74" stroke="#e5157b" stroke-width="0.95"/>
<circle cx="256.00" cy="268.74" r="0.9" fill="#e5157b"/>
<line x1="240.00" y1="282.20" x2="262.72" y2="272.17" stroke="#e5157b" stroke-width="0.95"/>
<circle cx="262.72" cy="272.17" r="0.9" fill="#e5157b"/>
<line x1="240.00" y1="282.20" x2="267.76" y2="275.86" stroke="#e5157b" stroke-width="0.95"/>
<circle cx="267.76" cy="275.86" r="0.9" fill="#e5157b"/>
<line x1="240.00" y1="282.20" x2="259.36" y2="276.46" stroke="#e5157b" stroke-width="0.95"/>
<circle cx="259.36" cy="276.46" r="0.9" fill="#e5157b"/>
<line x1="240.00" y1="282.20" x2="269.44" y2="279.81" stroke="#e5157b" stroke-width="0.95"/>
<circle cx="269.44" cy="279.81" r="0.9" fill="#e5157b"/>
<line x1="240.00" y1="282.20" x2="254.32" y2="274.18" stroke="#e5157b" stroke-width="0.95"/>
<circle cx="254.32" cy="274.18" r="0.9" fill="#e5157b"/>
<line x1="240.00" y1="282.20" x2="264.40" y2="267.26" stroke="#e5157b" stroke-width="0.95"/>
<circle cx="264.40" cy="267.26" r="0.9" fill="#e5157b"/>
</g>
<rect x="236.50" y="229.50" width="68.30" height="96.30" fill="none" stroke="#262626" stroke-width="1.1"/>
</g>
<g>
<text x="375.65" y="224.70" font-size="8.2" text-anchor="middle" fill="#2a2a2a" textLength="24.10" lengthAdjust="spacingAndGlyphs">ASXL1</text>
<line x1="338.80" y1="235.98" x2="341.30" y2="235.98" stroke="#262626" stroke-width="0.9"/>
<text x="335.30" y="238.13" font-size="6.0" text-anchor="end" fill="#2a2a2a">15</text>
<line x1="338.80" y1="242.90" x2="341.30" y2="242.90" stroke="#262626" stroke-width="0.9"/>
<text x="335.30" y="245.05" font-size="6.0" text-anchor="end" fill="#2a2a2a">10</text>
<line x1="338.80" y1="254.73" x2="341.30" y2="254.73" stroke="#262626" stroke-width="0.9"/>
<text x="335.30" y="256.88" font-size="6.0" text-anchor="end" fill="#2a2a2a">5</text>
<line x1="338.80" y1="263.45" x2="341.30" y2="263.45" stroke="#262626" stroke-width="0.9"/>
<text x="335.30" y="265.60" font-size="6.0" text-anchor="end" fill="#2a2a2a">3</text>
<line x1="338.80" y1="270.37" x2="341.30" y2="270.37" stroke="#262626" stroke-width="0.9"/>
<text x="335.30" y="272.52" font-size="6.0" text-anchor="end" fill="#2a2a2a">2</text>
<line x1="338.80" y1="282.20" x2="341.30" y2="282.20" stroke="#262626" stroke-width="0.9"/>
<text x="335.30" y="284.35" font-size="6.0" text-anchor="end" fill="#2a2a2a">1</text>
<line x1="338.80" y1="294.03" x2="341.30" y2="294.03" stroke="#262626" stroke-width="0.9"/>
<text x="335.30" y="296.18" font-size="6.0" text-anchor="end" fill="#2a2a2a">0.5</text>
<line x1="338.80" y1="302.75" x2="341.30" y2="302.75" stroke="#262626" stroke-width="0.9"/>
<text x="335.30" y="304.90" font-size="6.0" text-anchor="end" fill="#2a2a2a">0.3</text>
<line x1="338.80" y1="309.67" x2="341.30" y2="309.67" stroke="#262626" stroke-width="0.9"/>
<text x="335.30" y="311.82" font-size="6.0" text-anchor="end" fill="#2a2a2a">0.2</text>
<line x1="338.80" y1="321.50" x2="341.30" y2="321.50" stroke="#262626" stroke-width="0.9"/>
<text x="335.30" y="323.65" font-size="6.0" text-anchor="end" fill="#2a2a2a">0.1</text>
<line x1="344.20" y1="325.80" x2="344.20" y2="328.00" stroke="#262626" stroke-width="0.9"/>
<text x="343.90" y="336.20" font-size="6.0" text-anchor="middle" fill="#2a2a2a">0</text>
<line x1="362.70" y1="325.80" x2="362.70" y2="328.00" stroke="#262626" stroke-width="0.9"/>
<text x="362.40" y="336.20" font-size="6.0" text-anchor="middle" fill="#2a2a2a">10</text>
<line x1="381.20" y1="325.80" x2="381.20" y2="328.00" stroke="#262626" stroke-width="0.9"/>
<text x="380.90" y="336.20" font-size="6.0" text-anchor="middle" fill="#2a2a2a">20</text>
<line x1="399.70" y1="325.80" x2="399.70" y2="328.00" stroke="#262626" stroke-width="0.9"/>
<text x="399.40" y="336.20" font-size="6.0" text-anchor="middle" fill="#2a2a2a">30</text>
<text x="0" y="0" font-size="8.1" text-anchor="middle" fill="#2a2a2a" textLength="66.30" lengthAdjust="spacingAndGlyphs" stroke="#2a2a2a" stroke-width="0.32" transform="translate(322.00,277.65) rotate(-90)">Relative fold change in VAF</text>
<text x="375.65" y="347.90" font-size="8.1" text-anchor="middle" fill="#2a2a2a" textLength="62.3" lengthAdjust="spacingAndGlyphs" stroke="#2a2a2a" stroke-width="0.32">Follow-up post treatment</text>
<text x="375.95" y="357.00" font-size="8.1" text-anchor="middle" fill="#2a2a2a" textLength="22.0" lengthAdjust="spacingAndGlyphs" stroke="#2a2a2a" stroke-width="0.32">(months)</text>
<clipPath id="cb3"><rect x="341.30" y="229.50" width="68.70" height="96.30"/></clipPath>
<g clip-path="url(#cb3)">
<line x1="341.30" y1="282.20" x2="410.00" y2="282.20" stroke="#3a3a3a" stroke-width="1.0" stroke-dasharray="3.1 3.05"/>
<line x1="345.00" y1="282.20" x2="407.84" y2="284.00" stroke="#8fb0c4" stroke-width="1.5"/>
<line x1="345.00" y1="282.20" x2="399.70" y2="283.08" stroke="#7a9ab4" stroke-width="1.2"/>
<line x1="345.00" y1="282.20" x2="407.84" y2="288.05" stroke="#1e4e84" stroke-width="0.95"/>
<circle cx="407.84" cy="288.05" r="0.9" fill="#1e4e84"/>
<line x1="345.00" y1="282.20" x2="380.64" y2="290.64" stroke="#1e4e84" stroke-width="0.95"/>
<circle cx="380.64" cy="290.64" r="0.9" fill="#1e4e84"/>
<line x1="345.00" y1="282.20" x2="373.06" y2="287.57" stroke="#1e4e84" stroke-width="0.95"/>
<circle cx="373.06" cy="287.57" r="0.9" fill="#1e4e84"/>
<line x1="345.00" y1="282.20" x2="375.28" y2="301.12" stroke="#1e4e84" stroke-width="0.95"/>
<circle cx="375.28" cy="301.12" r="0.9" fill="#1e4e84"/>
<line x1="345.00" y1="282.20" x2="358.63" y2="305.19" stroke="#1e4e84" stroke-width="0.95"/>
<circle cx="358.63" cy="305.19" r="0.9" fill="#1e4e84"/>
<line x1="345.00" y1="282.20" x2="358.07" y2="293.04" stroke="#1e4e84" stroke-width="0.95"/>
<circle cx="358.07" cy="293.04" r="0.9" fill="#1e4e84"/>
<line x1="345.00" y1="282.20" x2="373.80" y2="294.03" stroke="#1e4e84" stroke-width="0.95"/>
<circle cx="373.80" cy="294.03" r="0.9" fill="#1e4e84"/>
<line x1="345.00" y1="282.20" x2="379.35" y2="286.01" stroke="#1e4e84" stroke-width="0.95"/>
<circle cx="379.35" cy="286.01" r="0.9" fill="#1e4e84"/>
<line x1="345.00" y1="282.20" x2="391.00" y2="283.08" stroke="#1e4e84" stroke-width="0.95"/>
<circle cx="391.00" cy="283.08" r="0.9" fill="#1e4e84"/>
<line x1="345.00" y1="282.20" x2="366.40" y2="289.55" stroke="#1e4e84" stroke-width="0.95"/>
<circle cx="366.40" cy="289.55" r="0.9" fill="#1e4e84"/>
<line x1="345.00" y1="282.20" x2="383.05" y2="283.44" stroke="#1e4e84" stroke-width="0.95"/>
<circle cx="383.05" cy="283.44" r="0.9" fill="#1e4e84"/>
<line x1="345.00" y1="282.20" x2="362.70" y2="295.83" stroke="#1e4e84" stroke-width="0.95"/>
<circle cx="362.70" cy="295.83" r="0.9" fill="#1e4e84"/>
<line x1="345.00" y1="282.20" x2="368.25" y2="297.84" stroke="#1e4e84" stroke-width="0.95"/>
<circle cx="368.25" cy="297.84" r="0.9" fill="#1e4e84"/>
<line x1="345.00" y1="282.20" x2="370.10" y2="284.97" stroke="#1e4e84" stroke-width="0.95"/>
<circle cx="370.10" cy="284.97" r="0.9" fill="#1e4e84"/>
<line x1="345.00" y1="282.20" x2="375.65" y2="284.00" stroke="#1e4e84" stroke-width="0.95"/>
<circle cx="375.65" cy="284.00" r="0.9" fill="#1e4e84"/>
<line x1="345.00" y1="282.20" x2="364.55" y2="287.11" stroke="#1e4e84" stroke-width="0.95"/>
<circle cx="364.55" cy="287.11" r="0.9" fill="#1e4e84"/>
<line x1="345.00" y1="282.20" x2="367.88" y2="250.52" stroke="#e5157b" stroke-width="0.95"/>
<circle cx="367.88" cy="250.52" r="0.9" fill="#e5157b"/>
<line x1="345.00" y1="282.20" x2="363.07" y2="267.98" stroke="#e5157b" stroke-width="0.95"/>
<circle cx="363.07" cy="267.98" r="0.9" fill="#e5157b"/>
<line x1="345.00" y1="282.20" x2="363.07" y2="273.04" stroke="#e5157b" stroke-width="0.95"/>
<circle cx="363.07" cy="273.04" r="0.9" fill="#e5157b"/>
<line x1="345.00" y1="282.20" x2="393.04" y2="270.54" stroke="#e5157b" stroke-width="0.95"/>
<circle cx="393.04" cy="270.54" r="0.9" fill="#e5157b"/>
<line x1="345.00" y1="282.20" x2="407.10" y2="272.65" stroke="#e5157b" stroke-width="0.95"/>
<circle cx="407.10" cy="272.65" r="0.9" fill="#e5157b"/>
<line x1="345.00" y1="282.20" x2="384.90" y2="281.53" stroke="#e5157b" stroke-width="0.95"/>
<circle cx="384.90" cy="281.53" r="0.9" fill="#e5157b"/>
<line x1="345.00" y1="282.20" x2="388.60" y2="274.18" stroke="#e5157b" stroke-width="0.95"/>
<circle cx="388.60" cy="274.18" r="0.9" fill="#e5157b"/>
<line x1="345.00" y1="282.20" x2="381.20" y2="274.72" stroke="#e5157b" stroke-width="0.95"/>
<circle cx="381.20" cy="274.72" r="0.9" fill="#e5157b"/>
<line x1="345.00" y1="282.20" x2="377.50" y2="275.86" stroke="#e5157b" stroke-width="0.95"/>
<circle cx="377.50" cy="275.86" r="0.9" fill="#e5157b"/>
<line x1="345.00" y1="282.20" x2="396.00" y2="272.94" stroke="#e5157b" stroke-width="0.95"/>
<circle cx="396.00" cy="272.94" r="0.9" fill="#e5157b"/>
<line x1="345.00" y1="282.20" x2="373.80" y2="276.46" stroke="#e5157b" stroke-width="0.95"/>
<circle cx="373.80" cy="276.46" r="0.9" fill="#e5157b"/>
<line x1="345.00" y1="282.20" x2="384.90" y2="272.65" stroke="#e5157b" stroke-width="0.95"/>
<circle cx="384.90" cy="272.65" r="0.9" fill="#e5157b"/>
<line x1="345.00" y1="282.20" x2="370.10" y2="277.72" stroke="#e5157b" stroke-width="0.95"/>
<circle cx="370.10" cy="277.72" r="0.9" fill="#e5157b"/>
<line x1="345.00" y1="282.20" x2="390.45" y2="277.72" stroke="#e5157b" stroke-width="0.95"/>
<circle cx="390.45" cy="277.72" r="0.9" fill="#e5157b"/>
<line x1="345.00" y1="282.20" x2="379.35" y2="279.09" stroke="#e5157b" stroke-width="0.95"/>
<circle cx="379.35" cy="279.09" r="0.9" fill="#e5157b"/>
</g>
<rect x="341.30" y="229.50" width="68.70" height="96.30" fill="none" stroke="#262626" stroke-width="1.1"/>
</g>
<g>
<text x="478.75" y="224.70" font-size="8.2" text-anchor="middle" fill="#2a2a2a" textLength="19.60" lengthAdjust="spacingAndGlyphs">Other</text>
<line x1="442.00" y1="235.98" x2="444.50" y2="235.98" stroke="#262626" stroke-width="0.9"/>
<text x="438.50" y="238.13" font-size="6.0" text-anchor="end" fill="#2a2a2a">15</text>
<line x1="442.00" y1="242.90" x2="444.50" y2="242.90" stroke="#262626" stroke-width="0.9"/>
<text x="438.50" y="245.05" font-size="6.0" text-anchor="end" fill="#2a2a2a">10</text>
<line x1="442.00" y1="254.73" x2="444.50" y2="254.73" stroke="#262626" stroke-width="0.9"/>
<text x="438.50" y="256.88" font-size="6.0" text-anchor="end" fill="#2a2a2a">5</text>
<line x1="442.00" y1="263.45" x2="444.50" y2="263.45" stroke="#262626" stroke-width="0.9"/>
<text x="438.50" y="265.60" font-size="6.0" text-anchor="end" fill="#2a2a2a">3</text>
<line x1="442.00" y1="270.37" x2="444.50" y2="270.37" stroke="#262626" stroke-width="0.9"/>
<text x="438.50" y="272.52" font-size="6.0" text-anchor="end" fill="#2a2a2a">2</text>
<line x1="442.00" y1="282.20" x2="444.50" y2="282.20" stroke="#262626" stroke-width="0.9"/>
<text x="438.50" y="284.35" font-size="6.0" text-anchor="end" fill="#2a2a2a">1</text>
<line x1="442.00" y1="294.03" x2="444.50" y2="294.03" stroke="#262626" stroke-width="0.9"/>
<text x="438.50" y="296.18" font-size="6.0" text-anchor="end" fill="#2a2a2a">0.5</text>
<line x1="442.00" y1="302.75" x2="444.50" y2="302.75" stroke="#262626" stroke-width="0.9"/>
<text x="438.50" y="304.90" font-size="6.0" text-anchor="end" fill="#2a2a2a">0.3</text>
<line x1="442.00" y1="309.67" x2="444.50" y2="309.67" stroke="#262626" stroke-width="0.9"/>
<text x="438.50" y="311.82" font-size="6.0" text-anchor="end" fill="#2a2a2a">0.2</text>
<line x1="442.00" y1="321.50" x2="444.50" y2="321.50" stroke="#262626" stroke-width="0.9"/>
<text x="438.50" y="323.65" font-size="6.0" text-anchor="end" fill="#2a2a2a">0.1</text>
<line x1="447.50" y1="325.80" x2="447.50" y2="328.00" stroke="#262626" stroke-width="0.9"/>
<text x="447.20" y="336.20" font-size="6.0" text-anchor="middle" fill="#2a2a2a">0</text>
<line x1="464.20" y1="325.80" x2="464.20" y2="328.00" stroke="#262626" stroke-width="0.9"/>
<text x="463.90" y="336.20" font-size="6.0" text-anchor="middle" fill="#2a2a2a">10</text>
<line x1="480.90" y1="325.80" x2="480.90" y2="328.00" stroke="#262626" stroke-width="0.9"/>
<text x="480.60" y="336.20" font-size="6.0" text-anchor="middle" fill="#2a2a2a">20</text>
<line x1="497.60" y1="325.80" x2="497.60" y2="328.00" stroke="#262626" stroke-width="0.9"/>
<text x="497.30" y="336.20" font-size="6.0" text-anchor="middle" fill="#2a2a2a">30</text>
<text x="0" y="0" font-size="8.1" text-anchor="middle" fill="#2a2a2a" textLength="66.30" lengthAdjust="spacingAndGlyphs" stroke="#2a2a2a" stroke-width="0.32" transform="translate(425.80,277.65) rotate(-90)">Relative fold change in VAF</text>
<text x="478.75" y="347.90" font-size="8.1" text-anchor="middle" fill="#2a2a2a" textLength="62.3" lengthAdjust="spacingAndGlyphs" stroke="#2a2a2a" stroke-width="0.32">Follow-up post treatment</text>
<text x="479.05" y="357.00" font-size="8.1" text-anchor="middle" fill="#2a2a2a" textLength="22.0" lengthAdjust="spacingAndGlyphs" stroke="#2a2a2a" stroke-width="0.32">(months)</text>
<clipPath id="cb4"><rect x="444.50" y="229.50" width="68.50" height="96.30"/></clipPath>
<g clip-path="url(#cb4)">
<line x1="444.50" y1="282.20" x2="513.00" y2="282.20" stroke="#3a3a3a" stroke-width="1.0" stroke-dasharray="3.1 3.05"/>
<line x1="448.30" y1="282.20" x2="510.79" y2="286.01" stroke="#8aa2bc" stroke-width="1.0"/>
<line x1="448.30" y1="282.20" x2="489.75" y2="286.88" stroke="#8aa8c0" stroke-width="1.3"/>
<line x1="448.30" y1="282.20" x2="489.08" y2="287.57" stroke="#1e4e84" stroke-width="0.95"/>
<circle cx="489.08" cy="287.57" r="0.9" fill="#1e4e84"/>
<line x1="448.30" y1="282.20" x2="484.57" y2="293.36" stroke="#1e4e84" stroke-width="0.95"/>
<circle cx="484.57" cy="293.36" r="0.9" fill="#1e4e84"/>
<line x1="448.30" y1="282.20" x2="475.06" y2="295.09" stroke="#1e4e84" stroke-width="0.95"/>
<circle cx="475.06" cy="295.09" r="0.9" fill="#1e4e84"/>
<line x1="448.30" y1="282.20" x2="469.04" y2="300.12" stroke="#1e4e84" stroke-width="0.95"/>
<circle cx="469.04" cy="300.12" r="0.9" fill="#1e4e84"/>
<line x1="448.30" y1="282.20" x2="465.54" y2="302.75" stroke="#1e4e84" stroke-width="0.95"/>
<circle cx="465.54" cy="302.75" r="0.9" fill="#1e4e84"/>
<line x1="448.30" y1="282.20" x2="467.21" y2="292.72" stroke="#1e4e84" stroke-width="0.95"/>
<circle cx="467.21" cy="292.72" r="0.9" fill="#1e4e84"/>
<line x1="448.30" y1="282.20" x2="484.57" y2="284.00" stroke="#1e4e84" stroke-width="0.95"/>
<circle cx="484.57" cy="284.00" r="0.9" fill="#1e4e84"/>
<line x1="448.30" y1="282.20" x2="484.57" y2="285.59" stroke="#1e4e84" stroke-width="0.95"/>
<circle cx="484.57" cy="285.59" r="0.9" fill="#1e4e84"/>
<line x1="448.30" y1="282.20" x2="480.90" y2="283.08" stroke="#1e4e84" stroke-width="0.95"/>
<circle cx="480.90" cy="283.08" r="0.9" fill="#1e4e84"/>
<line x1="448.30" y1="282.20" x2="474.52" y2="282.99" stroke="#1e4e84" stroke-width="0.95"/>
<circle cx="474.52" cy="282.99" r="0.9" fill="#1e4e84"/>
<line x1="448.30" y1="282.20" x2="466.77" y2="283.11" stroke="#1e4e84" stroke-width="0.95"/>
<circle cx="466.77" cy="283.11" r="0.9" fill="#1e4e84"/>
<line x1="448.30" y1="282.20" x2="468.86" y2="286.92" stroke="#1e4e84" stroke-width="0.95"/>
<circle cx="468.86" cy="286.92" r="0.9" fill="#1e4e84"/>
<line x1="448.30" y1="282.20" x2="475.77" y2="284.09" stroke="#1e4e84" stroke-width="0.95"/>
<circle cx="475.77" cy="284.09" r="0.9" fill="#1e4e84"/>
<line x1="448.30" y1="282.20" x2="466.09" y2="287.38" stroke="#1e4e84" stroke-width="0.95"/>
<circle cx="466.09" cy="287.38" r="0.9" fill="#1e4e84"/>
<line x1="448.30" y1="282.20" x2="470.23" y2="288.14" stroke="#1e4e84" stroke-width="0.95"/>
<circle cx="470.23" cy="288.14" r="0.9" fill="#1e4e84"/>
<line x1="448.30" y1="282.20" x2="466.49" y2="288.31" stroke="#1e4e84" stroke-width="0.95"/>
<circle cx="466.49" cy="288.31" r="0.9" fill="#1e4e84"/>
<line x1="448.30" y1="282.20" x2="472.64" y2="290.76" stroke="#1e4e84" stroke-width="0.95"/>
<circle cx="472.64" cy="290.76" r="0.9" fill="#1e4e84"/>
<line x1="448.30" y1="282.20" x2="470.68" y2="287.31" stroke="#1e4e84" stroke-width="0.95"/>
<circle cx="470.68" cy="287.31" r="0.9" fill="#1e4e84"/>
<line x1="448.30" y1="282.20" x2="464.41" y2="288.20" stroke="#1e4e84" stroke-width="0.95"/>
<circle cx="464.41" cy="288.20" r="0.9" fill="#1e4e84"/>
<line x1="448.30" y1="282.20" x2="471.49" y2="286.72" stroke="#1e4e84" stroke-width="0.95"/>
<circle cx="471.49" cy="286.72" r="0.9" fill="#1e4e84"/>
<line x1="448.30" y1="282.20" x2="464.95" y2="282.84" stroke="#1e4e84" stroke-width="0.95"/>
<circle cx="464.95" cy="282.84" r="0.9" fill="#1e4e84"/>
<line x1="448.30" y1="282.20" x2="473.42" y2="282.95" stroke="#1e4e84" stroke-width="0.95"/>
<circle cx="473.42" cy="282.95" r="0.9" fill="#1e4e84"/>
<line x1="448.30" y1="282.20" x2="465.42" y2="288.74" stroke="#1e4e84" stroke-width="0.95"/>
<circle cx="465.42" cy="288.74" r="0.9" fill="#1e4e84"/>
<line x1="448.30" y1="282.20" x2="464.66" y2="284.53" stroke="#1e4e84" stroke-width="0.95"/>
<circle cx="464.66" cy="284.53" r="0.9" fill="#1e4e84"/>
<line x1="448.30" y1="282.20" x2="467.36" y2="289.86" stroke="#1e4e84" stroke-width="0.95"/>
<circle cx="467.36" cy="289.86" r="0.9" fill="#1e4e84"/>
<line x1="448.30" y1="282.20" x2="469.14" y2="283.45" stroke="#1e4e84" stroke-width="0.95"/>
<circle cx="469.14" cy="283.45" r="0.9" fill="#1e4e84"/>
<line x1="448.30" y1="282.20" x2="473.77" y2="288.80" stroke="#1e4e84" stroke-width="0.95"/>
<circle cx="473.77" cy="288.80" r="0.9" fill="#1e4e84"/>
<line x1="448.30" y1="282.20" x2="465.95" y2="283.38" stroke="#1e4e84" stroke-width="0.95"/>
<circle cx="465.95" cy="283.38" r="0.9" fill="#1e4e84"/>
<line x1="448.30" y1="282.20" x2="470.87" y2="285.18" stroke="#1e4e84" stroke-width="0.95"/>
<circle cx="470.87" cy="285.18" r="0.9" fill="#1e4e84"/>
<line x1="448.30" y1="282.20" x2="465.25" y2="290.45" stroke="#1e4e84" stroke-width="0.95"/>
<circle cx="465.25" cy="290.45" r="0.9" fill="#1e4e84"/>
<line x1="448.30" y1="282.20" x2="472.25" y2="287.43" stroke="#1e4e84" stroke-width="0.95"/>
<circle cx="472.25" cy="287.43" r="0.9" fill="#1e4e84"/>
<line x1="448.30" y1="282.20" x2="465.05" y2="283.23" stroke="#1e4e84" stroke-width="0.95"/>
<circle cx="465.05" cy="283.23" r="0.9" fill="#1e4e84"/>
<line x1="448.30" y1="282.20" x2="471.62" y2="284.35" stroke="#1e4e84" stroke-width="0.95"/>
<circle cx="471.62" cy="284.35" r="0.9" fill="#1e4e84"/>
<line x1="448.30" y1="282.20" x2="465.18" y2="283.90" stroke="#1e4e84" stroke-width="0.95"/>
<circle cx="465.18" cy="283.90" r="0.9" fill="#1e4e84"/>
<line x1="448.30" y1="282.20" x2="464.98" y2="283.84" stroke="#1e4e84" stroke-width="0.95"/>
<circle cx="464.98" cy="283.84" r="0.9" fill="#1e4e84"/>
<line x1="448.30" y1="282.20" x2="460.69" y2="234.25" stroke="#e5157b" stroke-width="0.95"/>
<circle cx="460.69" cy="234.25" r="0.9" fill="#e5157b"/>
<line x1="448.30" y1="282.20" x2="467.04" y2="261.01" stroke="#e5157b" stroke-width="0.95"/>
<circle cx="467.04" cy="261.01" r="0.9" fill="#e5157b"/>
<line x1="448.30" y1="282.20" x2="476.06" y2="261.01" stroke="#e5157b" stroke-width="0.95"/>
<circle cx="476.06" cy="261.01" r="0.9" fill="#e5157b"/>
<line x1="448.30" y1="282.20" x2="475.06" y2="268.51" stroke="#e5157b" stroke-width="0.95"/>
<circle cx="475.06" cy="268.51" r="0.9" fill="#e5157b"/>
<line x1="448.30" y1="282.20" x2="464.53" y2="268.51" stroke="#e5157b" stroke-width="0.95"/>
<circle cx="464.53" cy="268.51" r="0.9" fill="#e5157b"/>
<line x1="448.30" y1="282.20" x2="492.42" y2="264.81" stroke="#e5157b" stroke-width="0.95"/>
<circle cx="492.42" cy="264.81" r="0.9" fill="#e5157b"/>
<line x1="448.30" y1="282.20" x2="504.45" y2="264.81" stroke="#e5157b" stroke-width="0.95"/>
<circle cx="504.45" cy="264.81" r="0.9" fill="#e5157b"/>
<line x1="448.30" y1="282.20" x2="504.45" y2="271.52" stroke="#e5157b" stroke-width="0.95"/>
<circle cx="504.45" cy="271.52" r="0.9" fill="#e5157b"/>
<line x1="448.30" y1="282.20" x2="484.07" y2="276.46" stroke="#e5157b" stroke-width="0.95"/>
<circle cx="484.07" cy="276.46" r="0.9" fill="#e5157b"/>
<line x1="448.30" y1="282.20" x2="475.72" y2="269.54" stroke="#e5157b" stroke-width="0.95"/>
<circle cx="475.72" cy="269.54" r="0.9" fill="#e5157b"/>
<line x1="448.30" y1="282.20" x2="480.90" y2="274.18" stroke="#e5157b" stroke-width="0.95"/>
<circle cx="480.90" cy="274.18" r="0.9" fill="#e5157b"/>
<line x1="448.30" y1="282.20" x2="487.58" y2="278.39" stroke="#e5157b" stroke-width="0.95"/>
<circle cx="487.58" cy="278.39" r="0.9" fill="#e5157b"/>
<line x1="448.30" y1="282.20" x2="468.15" y2="269.78" stroke="#e5157b" stroke-width="0.95"/>
<circle cx="468.15" cy="269.78" r="0.9" fill="#e5157b"/>
<line x1="448.30" y1="282.20" x2="469.23" y2="274.65" stroke="#e5157b" stroke-width="0.95"/>
<circle cx="469.23" cy="274.65" r="0.9" fill="#e5157b"/>
<line x1="448.30" y1="282.20" x2="469.52" y2="281.13" stroke="#e5157b" stroke-width="0.95"/>
<circle cx="469.52" cy="281.13" r="0.9" fill="#e5157b"/>
<line x1="448.30" y1="282.20" x2="468.41" y2="279.06" stroke="#e5157b" stroke-width="0.95"/>
<circle cx="468.41" cy="279.06" r="0.9" fill="#e5157b"/>
<line x1="448.30" y1="282.20" x2="462.58" y2="271.28" stroke="#e5157b" stroke-width="0.95"/>
<circle cx="462.58" cy="271.28" r="0.9" fill="#e5157b"/>
<line x1="448.30" y1="282.20" x2="464.83" y2="275.39" stroke="#e5157b" stroke-width="0.95"/>
<circle cx="464.83" cy="275.39" r="0.9" fill="#e5157b"/>
<line x1="448.30" y1="282.20" x2="472.22" y2="274.34" stroke="#e5157b" stroke-width="0.95"/>
<circle cx="472.22" cy="274.34" r="0.9" fill="#e5157b"/>
<line x1="448.30" y1="282.20" x2="466.89" y2="274.82" stroke="#e5157b" stroke-width="0.95"/>
<circle cx="466.89" cy="274.82" r="0.9" fill="#e5157b"/>
<line x1="448.30" y1="282.20" x2="469.95" y2="271.47" stroke="#e5157b" stroke-width="0.95"/>
<circle cx="469.95" cy="271.47" r="0.9" fill="#e5157b"/>
<line x1="448.30" y1="282.20" x2="463.95" y2="274.29" stroke="#e5157b" stroke-width="0.95"/>
<circle cx="463.95" cy="274.29" r="0.9" fill="#e5157b"/>
<line x1="448.30" y1="282.20" x2="465.85" y2="277.87" stroke="#e5157b" stroke-width="0.95"/>
<circle cx="465.85" cy="277.87" r="0.9" fill="#e5157b"/>
<line x1="448.30" y1="282.20" x2="472.85" y2="274.96" stroke="#e5157b" stroke-width="0.95"/>
<circle cx="472.85" cy="274.96" r="0.9" fill="#e5157b"/>
<line x1="448.30" y1="282.20" x2="470.03" y2="271.77" stroke="#e5157b" stroke-width="0.95"/>
<circle cx="470.03" cy="271.77" r="0.9" fill="#e5157b"/>
<line x1="448.30" y1="282.20" x2="474.72" y2="275.77" stroke="#e5157b" stroke-width="0.95"/>
<circle cx="474.72" cy="275.77" r="0.9" fill="#e5157b"/>
<line x1="448.30" y1="282.20" x2="470.71" y2="274.98" stroke="#e5157b" stroke-width="0.95"/>
<circle cx="470.71" cy="274.98" r="0.9" fill="#e5157b"/>
<line x1="448.30" y1="282.20" x2="469.37" y2="272.62" stroke="#e5157b" stroke-width="0.95"/>
<circle cx="469.37" cy="272.62" r="0.9" fill="#e5157b"/>
<line x1="448.30" y1="282.20" x2="468.57" y2="274.63" stroke="#e5157b" stroke-width="0.95"/>
<circle cx="468.57" cy="274.63" r="0.9" fill="#e5157b"/>
<line x1="448.30" y1="282.20" x2="468.92" y2="269.48" stroke="#e5157b" stroke-width="0.95"/>
<circle cx="468.92" cy="269.48" r="0.9" fill="#e5157b"/>
<line x1="448.30" y1="282.20" x2="471.87" y2="270.30" stroke="#e5157b" stroke-width="0.95"/>
<circle cx="471.87" cy="270.30" r="0.9" fill="#e5157b"/>
<line x1="448.30" y1="282.20" x2="475.12" y2="278.09" stroke="#e5157b" stroke-width="0.95"/>
<circle cx="475.12" cy="278.09" r="0.9" fill="#e5157b"/>
<line x1="448.30" y1="282.20" x2="470.01" y2="269.46" stroke="#e5157b" stroke-width="0.95"/>
<circle cx="470.01" cy="269.46" r="0.9" fill="#e5157b"/>
<line x1="448.30" y1="282.20" x2="473.75" y2="279.64" stroke="#e5157b" stroke-width="0.95"/>
<circle cx="473.75" cy="279.64" r="0.9" fill="#e5157b"/>
<line x1="448.30" y1="282.20" x2="464.15" y2="275.79" stroke="#e5157b" stroke-width="0.95"/>
<circle cx="464.15" cy="275.79" r="0.9" fill="#e5157b"/>
<line x1="448.30" y1="282.20" x2="463.50" y2="278.33" stroke="#e5157b" stroke-width="0.95"/>
<circle cx="463.50" cy="278.33" r="0.9" fill="#e5157b"/>
<line x1="448.30" y1="282.20" x2="463.51" y2="272.92" stroke="#e5157b" stroke-width="0.95"/>
<circle cx="463.51" cy="272.92" r="0.9" fill="#e5157b"/>
<line x1="448.30" y1="282.20" x2="473.00" y2="270.04" stroke="#e5157b" stroke-width="0.95"/>
<circle cx="473.00" cy="270.04" r="0.9" fill="#e5157b"/>
<line x1="448.30" y1="282.20" x2="464.59" y2="272.33" stroke="#e5157b" stroke-width="0.95"/>
<circle cx="464.59" cy="272.33" r="0.9" fill="#e5157b"/>
<line x1="448.30" y1="282.20" x2="471.35" y2="279.56" stroke="#e5157b" stroke-width="0.95"/>
<circle cx="471.35" cy="279.56" r="0.9" fill="#e5157b"/>
</g>
<rect x="444.50" y="229.50" width="68.50" height="96.30" fill="none" stroke="#262626" stroke-width="1.1"/>
</g>
<text x="30.00" y="170.10" font-size="5.8" text-anchor="start" fill="#2a2a2a" stroke="#2a2a2a" stroke-width="0.12">Difference</text>
<line x1="29.8" y1="177.5" x2="39.1" y2="177.5" stroke="#cf3c80" stroke-width="1.1"/>
<text x="41.70" y="179.40" font-size="5.8" text-anchor="start" fill="#2a2a2a" stroke="#2a2a2a" stroke-width="0.12">Increased</text>
<line x1="29.8" y1="183.7" x2="39.1" y2="183.7" stroke="#4d6d8e" stroke-width="1.1"/>
<text x="41.70" y="185.60" font-size="5.8" text-anchor="start" fill="#2a2a2a" stroke="#2a2a2a" stroke-width="0.12">Decreased</text>
<line x1="29.8" y1="190.3" x2="39.1" y2="190.3" stroke="#c8dcc2" stroke-width="1.1"/>
<text x="41.70" y="192.20" font-size="5.8" text-anchor="start" fill="#2a2a2a" stroke="#2a2a2a" stroke-width="0.12">No change</text>
<text x="30.30" y="367.50" font-size="5.8" text-anchor="start" fill="#2a2a2a" stroke="#2a2a2a" stroke-width="0.12">VAF status</text>
<line x1="36.5" y1="374.2" x2="42.8" y2="374.2" stroke="#b83a78" stroke-width="1.1"/>
<text x="46.00" y="376.10" font-size="5.8" text-anchor="start" fill="#2a2a2a" stroke="#2a2a2a" stroke-width="0.12">Increased</text>
<line x1="36.5" y1="381.6" x2="42.8" y2="381.6" stroke="#3d5a7c" stroke-width="1.1"/>
<text x="46.00" y="383.50" font-size="5.8" text-anchor="start" fill="#2a2a2a" stroke="#2a2a2a" stroke-width="0.12">Decreased</text>
<text x="93.80" y="367.30" font-size="5.8" text-anchor="start" fill="#2a2a2a" stroke="#2a2a2a" stroke-width="0.12">Pathogenicity</text>
<circle cx="93.5" cy="374.4" r="0.75" fill="#111"/>
<text x="97.20" y="376.30" font-size="5.8" text-anchor="start" fill="#2a2a2a" stroke="#2a2a2a" stroke-width="0.12">VUS</text>
<circle cx="93.5" cy="381.7" r="0.9" fill="#111"/>
<text x="97.20" y="383.60" font-size="5.8" text-anchor="start" fill="#2a2a2a" stroke="#2a2a2a" stroke-width="0.12">Benign</text>
<circle cx="93.5" cy="389.4" r="1.05" fill="#111"/>
<text x="97.20" y="391.30" font-size="5.8" text-anchor="start" fill="#2a2a2a" stroke="#2a2a2a" stroke-width="0.12">Pathogenic</text>
<rect x="0" y="0" width="520" height="1" fill="#5f5f5f"/>
<rect x="0" y="0" width="1" height="399" fill="#5f5f5f"/>
<rect x="518.8" y="0" width="1.2" height="399" fill="#454545"/>
<rect x="0" y="397.8" width="520" height="1.2" fill="#3a3a3a"/>
</svg>
</body></html>
